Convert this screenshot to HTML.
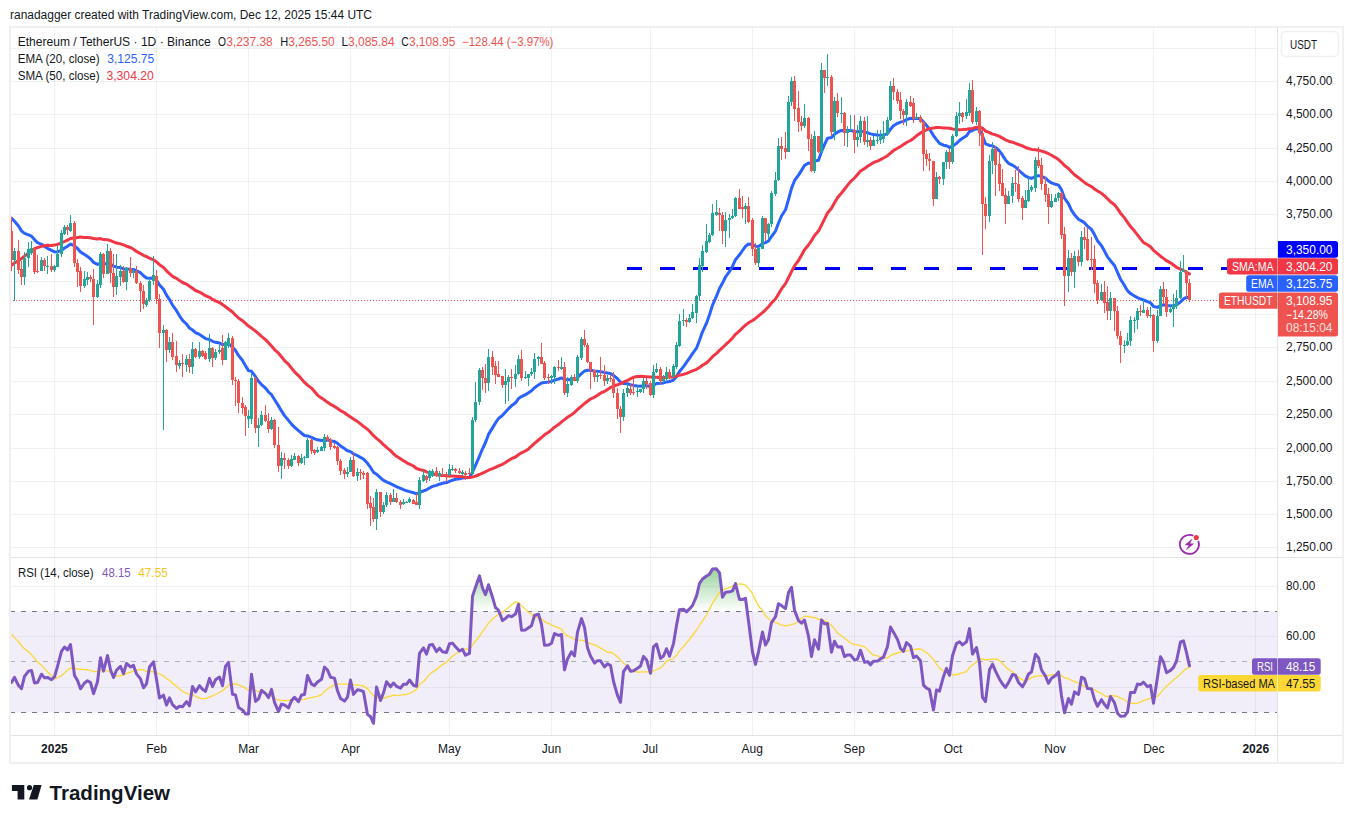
<!DOCTYPE html>
<html><head><meta charset="utf-8"><style>
html,body{margin:0;padding:0;background:#fff;width:1353px;height:823px;overflow:hidden}
svg{display:block}
text{font-family:"Liberation Sans",sans-serif}
</style></head><body>
<svg width="1353" height="823" viewBox="0 0 1353 823">
<rect x="0" y="0" width="1353" height="823" fill="#ffffff"/>
<defs><clipPath id="plot"><rect x="11" y="28" width="1266" height="707"/></clipPath></defs>
<g clip-path="url(#plot)">
<g stroke="rgba(120,140,130,0.11)" stroke-width="1" shape-rendering="crispEdges">
<line x1="54.5" y1="28" x2="54.5" y2="735"/>
<line x1="156.5" y1="28" x2="156.5" y2="735"/>
<line x1="248.5" y1="28" x2="248.5" y2="735"/>
<line x1="350.5" y1="28" x2="350.5" y2="735"/>
<line x1="449.5" y1="28" x2="449.5" y2="735"/>
<line x1="551.5" y1="28" x2="551.5" y2="735"/>
<line x1="650.5" y1="28" x2="650.5" y2="735"/>
<line x1="752.5" y1="28" x2="752.5" y2="735"/>
<line x1="854.5" y1="28" x2="854.5" y2="735"/>
<line x1="952.5" y1="28" x2="952.5" y2="735"/>
<line x1="1055.5" y1="28" x2="1055.5" y2="735"/>
<line x1="1153.5" y1="28" x2="1153.5" y2="735"/>
<line x1="1255.5" y1="28" x2="1255.5" y2="735"/>
<line x1="11" y1="547.5" x2="1277" y2="547.5"/>
<line x1="11" y1="514.5" x2="1277" y2="514.5"/>
<line x1="11" y1="481.5" x2="1277" y2="481.5"/>
<line x1="11" y1="448.5" x2="1277" y2="448.5"/>
<line x1="11" y1="414.5" x2="1277" y2="414.5"/>
<line x1="11" y1="381.5" x2="1277" y2="381.5"/>
<line x1="11" y1="347.5" x2="1277" y2="347.5"/>
<line x1="11" y1="314.5" x2="1277" y2="314.5"/>
<line x1="11" y1="281.5" x2="1277" y2="281.5"/>
<line x1="11" y1="248.5" x2="1277" y2="248.5"/>
<line x1="11" y1="214.5" x2="1277" y2="214.5"/>
<line x1="11" y1="181.5" x2="1277" y2="181.5"/>
<line x1="11" y1="148.5" x2="1277" y2="148.5"/>
<line x1="11" y1="114.5" x2="1277" y2="114.5"/>
<line x1="11" y1="81.5" x2="1277" y2="81.5"/>
<line x1="11" y1="48.5" x2="1277" y2="48.5"/>
<line x1="11" y1="586.5" x2="1277" y2="586.5"/>
<line x1="11" y1="636.5" x2="1277" y2="636.5"/>
<line x1="11" y1="687.5" x2="1277" y2="687.5"/>
</g>
<line x1="627" y1="268.5" x2="1277" y2="268.5" stroke="#0000ff" stroke-width="3" stroke-dasharray="15 18"/>
<line x1="13" y1="300.5" x2="1218" y2="300.5" stroke="#ef5350" stroke-width="1" stroke-dasharray="1 2" shape-rendering="crispEdges"/>
<polyline fill="none" stroke="#2962ff" stroke-width="3" stroke-linejoin="round" stroke-linecap="round" points="11.5,218.2 14.5,221.3 18.5,226.0 21.5,230.9 24.5,233.4 28.5,234.9 31.5,236.2 34.5,239.6 37.5,242.7 41.5,244.3 44.5,246.4 47.5,248.3 51.5,250.3 54.5,251.8 57.5,252.0 61.5,250.2 64.5,248.0 67.5,246.3 70.5,244.1 74.5,245.9 77.5,248.4 80.5,251.9 84.5,254.5 87.5,256.6 90.5,258.7 93.5,262.3 97.5,264.4 100.5,263.4 103.5,264.4 107.5,263.1 110.5,264.1 113.5,266.2 116.5,267.2 120.5,267.5 123.5,268.9 126.5,268.9 130.5,269.3 133.5,269.5 136.5,270.8 140.5,272.7 143.5,275.7 146.5,278.0 149.5,278.3 153.5,277.9 156.5,279.9 159.5,285.0 163.5,289.2 166.5,295.1 169.5,299.6 172.5,305.0 176.5,310.7 179.5,315.7 182.5,320.3 186.5,324.0 189.5,328.1 192.5,330.0 195.5,332.6 199.5,334.4 202.5,336.5 205.5,338.6 209.5,339.5 212.5,341.3 215.5,342.3 219.5,343.0 222.5,344.6 225.5,344.3 228.5,343.7 232.5,347.2 235.5,350.4 238.5,355.4 242.5,360.5 245.5,365.8 248.5,370.6 251.5,371.3 255.5,376.7 258.5,381.3 261.5,384.6 265.5,388.1 268.5,392.0 271.5,394.7 274.5,399.5 278.5,405.9 281.5,410.9 284.5,415.6 288.5,420.4 291.5,424.1 294.5,427.2 298.5,430.6 301.5,433.2 304.5,435.5 307.5,435.9 311.5,437.3 314.5,438.8 317.5,439.8 321.5,440.5 324.5,440.2 327.5,440.1 330.5,440.8 334.5,441.4 337.5,443.3 340.5,445.9 344.5,448.6 347.5,450.8 350.5,451.6 353.5,453.9 357.5,455.7 360.5,457.4 363.5,459.0 367.5,463.3 370.5,467.5 373.5,472.3 376.5,474.2 380.5,477.8 383.5,480.4 386.5,481.8 390.5,483.7 393.5,485.1 396.5,486.7 400.5,488.4 403.5,489.7 406.5,490.8 409.5,491.6 413.5,492.7 416.5,493.9 419.5,492.5 423.5,490.9 426.5,489.8 429.5,488.0 432.5,486.4 436.5,485.4 439.5,484.2 442.5,483.3 446.5,482.6 449.5,481.4 452.5,480.2 455.5,479.3 459.5,478.7 462.5,478.1 465.5,477.8 469.5,477.4 472.5,472.0 475.5,465.3 479.5,456.2 482.5,448.8 485.5,442.5 488.5,434.4 492.5,427.9 495.5,422.9 498.5,418.5 502.5,415.3 505.5,412.0 508.5,408.7 511.5,405.8 515.5,402.8 518.5,398.6 521.5,396.6 525.5,394.7 528.5,392.8 531.5,390.8 534.5,387.8 538.5,384.9 541.5,382.9 544.5,382.4 548.5,382.0 551.5,381.5 554.5,380.1 558.5,379.0 561.5,377.9 564.5,379.3 567.5,379.7 571.5,379.5 574.5,379.6 577.5,377.4 581.5,373.7 584.5,371.0 587.5,370.2 590.5,370.2 594.5,370.9 597.5,371.3 600.5,371.6 604.5,372.5 607.5,373.0 610.5,373.6 613.5,375.5 617.5,378.7 620.5,382.3 623.5,383.4 627.5,383.8 630.5,384.7 633.5,385.4 637.5,385.9 640.5,386.2 643.5,385.8 646.5,385.6 650.5,386.5 653.5,385.1 656.5,383.6 660.5,383.3 663.5,382.9 666.5,381.9 669.5,381.5 673.5,380.1 676.5,376.8 679.5,371.5 683.5,366.6 686.5,362.4 689.5,358.1 692.5,353.7 696.5,348.2 699.5,340.3 702.5,331.8 706.5,323.2 709.5,314.7 712.5,305.1 716.5,296.2 719.5,288.5 722.5,283.1 725.5,277.0 729.5,271.4 732.5,266.2 735.5,259.7 739.5,254.8 742.5,250.5 745.5,246.3 748.5,243.9 752.5,244.5 755.5,246.3 758.5,246.4 762.5,243.7 765.5,242.7 768.5,241.0 771.5,236.5 775.5,231.1 778.5,223.0 781.5,216.0 785.5,209.8 788.5,199.5 791.5,188.3 794.5,180.7 798.5,175.1 801.5,170.4 804.5,165.5 808.5,163.0 811.5,163.8 814.5,161.1 818.5,160.3 821.5,151.7 824.5,144.7 827.5,138.2 831.5,137.6 834.5,134.2 837.5,132.2 841.5,130.4 844.5,130.7 847.5,130.6 850.5,130.5 854.5,131.3 857.5,131.9 860.5,130.9 864.5,131.9 867.5,132.7 870.5,133.9 873.5,134.5 877.5,135.0 880.5,135.2 883.5,135.1 887.5,133.7 890.5,129.2 893.5,125.7 897.5,123.3 900.5,122.1 903.5,121.4 906.5,119.6 910.5,118.3 913.5,118.4 916.5,118.3 920.5,118.7 923.5,122.1 926.5,125.6 929.5,129.0 933.5,135.6 936.5,139.6 939.5,143.3 943.5,145.2 946.5,145.8 949.5,147.4 952.5,146.3 956.5,143.4 959.5,140.5 962.5,138.3 966.5,135.8 969.5,131.5 972.5,130.5 976.5,128.7 979.5,129.0 982.5,136.2 985.5,143.8 989.5,145.4 992.5,145.7 995.5,147.5 999.5,151.0 1002.5,155.2 1005.5,159.9 1008.5,163.3 1012.5,165.2 1015.5,167.0 1018.5,170.0 1022.5,173.6 1025.5,176.2 1028.5,177.5 1031.5,178.4 1035.5,176.7 1038.5,175.6 1041.5,176.5 1045.5,178.2 1048.5,181.0 1051.5,182.9 1055.5,184.3 1058.5,185.1 1061.5,189.8 1064.5,198.1 1068.5,203.8 1071.5,210.3 1074.5,214.7 1078.5,219.2 1081.5,220.9 1084.5,222.7 1087.5,226.2 1091.5,229.4 1094.5,234.6 1097.5,240.8 1101.5,245.7 1104.5,251.1 1107.5,256.8 1110.5,260.7 1114.5,265.5 1117.5,272.3 1120.5,279.2 1124.5,285.4 1127.5,290.7 1130.5,293.6 1134.5,296.1 1137.5,297.6 1140.5,299.0 1143.5,300.0 1147.5,301.6 1150.5,302.8 1153.5,306.5 1157.5,307.4 1160.5,305.7 1163.5,304.8 1166.5,305.5 1170.5,305.8 1173.5,305.8 1176.5,305.0 1180.5,301.9 1183.5,298.9 1186.5,297.4 1189.5,297.6"/>
<polyline fill="none" stroke="#f23645" stroke-width="3" stroke-linejoin="round" stroke-linecap="round" points="11.5,265.4 14.5,262.9 18.5,260.7 21.5,258.6 24.5,256.1 28.5,253.2 31.5,250.3 34.5,248.7 37.5,247.6 41.5,246.4 44.5,245.8 47.5,245.3 51.5,245.4 54.5,245.1 57.5,244.4 61.5,243.0 64.5,241.5 67.5,240.1 70.5,238.5 74.5,238.1 77.5,237.5 80.5,237.1 84.5,237.4 87.5,237.5 90.5,237.8 93.5,238.5 97.5,239.0 100.5,238.6 103.5,239.6 107.5,239.8 110.5,240.6 113.5,241.9 116.5,243.0 120.5,243.9 123.5,244.9 126.5,246.2 130.5,247.5 133.5,249.3 136.5,251.4 140.5,253.6 143.5,255.3 146.5,256.7 149.5,258.2 153.5,259.8 156.5,261.9 159.5,264.6 163.5,267.5 166.5,270.8 169.5,273.7 172.5,276.3 176.5,278.4 179.5,280.6 182.5,282.5 186.5,284.1 189.5,286.3 192.5,288.3 195.5,290.5 199.5,292.1 202.5,293.7 205.5,295.7 209.5,297.4 212.5,299.2 215.5,300.9 219.5,302.5 222.5,304.6 225.5,306.8 228.5,309.0 232.5,312.0 235.5,315.2 238.5,318.0 242.5,320.7 245.5,323.3 248.5,326.1 251.5,328.1 255.5,331.1 258.5,333.7 261.5,336.3 265.5,339.6 268.5,342.7 271.5,346.1 274.5,349.6 278.5,353.2 281.5,356.8 284.5,360.6 288.5,364.3 291.5,368.1 294.5,371.8 298.5,375.6 301.5,379.1 304.5,382.4 307.5,385.1 311.5,388.1 314.5,391.6 317.5,395.1 321.5,398.1 324.5,400.1 327.5,402.3 330.5,404.3 334.5,406.4 337.5,408.5 340.5,410.6 344.5,412.8 347.5,414.9 350.5,417.0 353.5,419.1 357.5,421.6 360.5,423.9 363.5,426.4 367.5,429.3 370.5,432.3 373.5,435.7 376.5,438.4 380.5,441.6 383.5,444.7 386.5,447.4 390.5,450.6 393.5,453.8 396.5,456.3 400.5,458.7 403.5,460.7 406.5,462.6 409.5,464.2 413.5,466.0 416.5,468.5 419.5,469.5 423.5,470.5 426.5,471.8 429.5,472.8 432.5,473.7 436.5,474.8 439.5,475.3 442.5,475.5 446.5,475.8 449.5,476.0 452.5,476.1 455.5,476.3 459.5,476.6 462.5,476.8 465.5,477.2 469.5,477.5 472.5,477.1 475.5,476.1 479.5,474.5 482.5,473.1 485.5,471.8 488.5,470.2 492.5,468.7 495.5,467.3 498.5,465.9 502.5,464.3 505.5,462.5 508.5,460.6 511.5,458.7 515.5,457.0 518.5,454.7 521.5,452.8 525.5,450.9 528.5,448.9 531.5,446.2 534.5,443.3 538.5,440.0 541.5,437.5 544.5,434.8 548.5,432.2 551.5,429.9 554.5,427.2 558.5,424.6 561.5,421.9 564.5,419.6 567.5,417.3 571.5,414.8 574.5,412.4 577.5,409.5 581.5,406.2 584.5,403.5 587.5,401.2 590.5,399.0 594.5,397.2 597.5,395.3 600.5,393.2 604.5,391.4 607.5,389.4 610.5,387.5 613.5,386.0 617.5,384.8 620.5,383.7 623.5,382.1 627.5,380.4 630.5,378.8 633.5,377.2 637.5,376.6 640.5,376.3 643.5,376.5 646.5,376.7 650.5,376.9 653.5,377.2 656.5,377.2 660.5,377.4 663.5,377.4 666.5,377.2 669.5,377.1 673.5,376.9 676.5,376.2 679.5,375.2 683.5,374.4 686.5,373.3 689.5,372.1 692.5,370.9 696.5,369.3 699.5,367.5 702.5,365.3 706.5,362.9 709.5,360.0 712.5,356.7 716.5,353.4 719.5,350.4 722.5,347.7 725.5,344.7 729.5,341.2 732.5,337.9 735.5,334.3 739.5,330.8 742.5,327.9 745.5,325.2 748.5,322.8 752.5,320.5 755.5,318.4 758.5,315.8 762.5,312.6 765.5,309.8 768.5,306.7 771.5,303.0 775.5,299.0 778.5,294.1 781.5,288.9 785.5,283.6 788.5,277.7 791.5,271.6 794.5,265.9 798.5,260.5 801.5,255.2 804.5,249.8 808.5,245.0 811.5,240.7 814.5,235.5 818.5,231.1 821.5,225.1 824.5,219.1 827.5,213.0 831.5,208.2 834.5,202.7 837.5,197.7 841.5,193.0 844.5,189.2 847.5,185.4 850.5,181.6 854.5,178.0 857.5,174.5 860.5,171.0 864.5,168.6 867.5,166.3 870.5,164.4 873.5,162.5 877.5,161.1 880.5,159.6 883.5,158.0 887.5,155.7 890.5,153.1 893.5,150.5 897.5,148.2 900.5,146.5 903.5,144.6 906.5,142.5 910.5,140.5 913.5,138.4 916.5,135.8 920.5,133.0 923.5,131.1 926.5,129.9 929.5,128.5 933.5,127.9 936.5,127.6 939.5,127.6 943.5,127.9 946.5,128.0 949.5,128.2 952.5,128.9 956.5,129.6 959.5,129.7 962.5,129.6 966.5,129.3 969.5,128.7 972.5,128.4 976.5,127.2 979.5,127.1 982.5,128.1 985.5,131.0 989.5,132.7 992.5,134.1 995.5,134.8 999.5,136.4 1002.5,138.1 1005.5,139.9 1008.5,141.2 1012.5,142.2 1015.5,143.3 1018.5,144.5 1022.5,145.9 1025.5,147.5 1028.5,148.5 1031.5,149.4 1035.5,149.7 1038.5,150.2 1041.5,151.1 1045.5,152.3 1048.5,153.7 1051.5,155.3 1055.5,157.6 1058.5,159.6 1061.5,162.3 1064.5,165.6 1068.5,168.4 1071.5,171.8 1074.5,174.8 1078.5,177.7 1081.5,180.1 1084.5,182.4 1087.5,184.5 1091.5,186.6 1094.5,189.0 1097.5,191.0 1101.5,193.3 1104.5,195.8 1107.5,198.8 1110.5,201.7 1114.5,204.7 1117.5,208.7 1120.5,213.2 1124.5,217.9 1127.5,222.4 1130.5,226.5 1134.5,231.1 1137.5,234.9 1140.5,238.9 1143.5,242.5 1147.5,244.7 1150.5,246.7 1153.5,250.3 1157.5,253.7 1160.5,256.2 1163.5,258.4 1166.5,260.7 1170.5,262.8 1173.5,265.0 1176.5,267.3 1180.5,269.1 1183.5,270.5 1186.5,272.0 1189.5,274.0"/>
<path fill="#22a69a" d="M14 248.0h1V251.0h1v9.0h-1V301.0h-1V260.0h-1v-9.0h1zM24 252.0h1V258.0h1v19.0h-1V285.0h-1V277.0h-1v-19.0h1zM28 242.0h1V249.0h1v9.0h-1V267.0h-1V258.0h-1v-9.0h1zM31 241.0h1V248.0h1v5.0h-1V255.0h-1V253.0h-1v-5.0h1zM41 257.0h1V260.0h1v11.0h-1V271.0h-1V271.0h-1v-11.0h1zM47 256.0h1V266.0h1v1.0h-1V274.0h-1V267.0h-1v-1.0h1zM54 265.0h1V266.0h1v4.0h-1V272.0h-1V270.0h-1v-4.0h1zM57 246.0h1V254.0h1v13.0h-1V267.0h-1V267.0h-1v-13.0h1zM61 230.0h1V233.0h1v21.0h-1V257.0h-1V254.0h-1v-21.0h1zM64 225.0h1V227.0h1v7.0h-1V235.0h-1V234.0h-1v-7.0h1zM70 215.0h1V223.0h1v8.0h-1V232.0h-1V231.0h-1v-8.0h1zM84 271.0h1V279.0h1v7.0h-1V288.0h-1V286.0h-1v-7.0h1zM87 272.0h1V277.0h1v3.0h-1V285.0h-1V280.0h-1v-3.0h1zM97 280.0h1V284.0h1v13.0h-1V298.0h-1V297.0h-1v-13.0h1zM100 252.0h1V254.0h1v31.0h-1V288.0h-1V285.0h-1v-31.0h1zM107 244.0h1V251.0h1v23.0h-1V274.0h-1V274.0h-1v-23.0h1zM116 254.0h1V276.0h1v11.0h-1V295.0h-1V287.0h-1v-11.0h1zM120 265.0h1V271.0h1v6.0h-1V286.0h-1V277.0h-1v-6.0h1zM126 267.0h1V268.0h1v14.0h-1V290.0h-1V282.0h-1v-14.0h1zM133 269.0h1V271.0h1v2.0h-1V278.0h-1V273.0h-1v-2.0h1zM146 298.0h1V300.0h1v5.0h-1V307.0h-1V305.0h-1v-5.0h1zM149 278.0h1V281.0h1v19.0h-1V302.0h-1V300.0h-1v-19.0h1zM153 256.0h1V275.0h1v6.0h-1V285.0h-1V281.0h-1v-6.0h1zM163 325.0h1V330.0h1v3.0h-1V430.0h-1V333.0h-1v-3.0h1zM169 337.0h1V342.0h1v8.0h-1V353.0h-1V350.0h-1v-8.0h1zM179 360.0h1V363.0h1v3.0h-1V369.0h-1V366.0h-1v-3.0h1zM186 355.0h1V359.0h1v6.0h-1V372.0h-1V365.0h-1v-6.0h1zM192 342.0h1V349.0h1v18.0h-1V374.0h-1V367.0h-1v-18.0h1zM199 342.0h1V351.0h1v6.0h-1V359.0h-1V357.0h-1v-6.0h1zM209 334.0h1V348.0h1v11.0h-1V362.0h-1V359.0h-1v-11.0h1zM215 349.0h1V352.0h1v6.0h-1V360.0h-1V358.0h-1v-6.0h1zM219 345.0h1V350.0h1v2.0h-1V354.0h-1V352.0h-1v-2.0h1zM225 341.0h1V342.0h1v18.0h-1V360.0h-1V360.0h-1v-18.0h1zM228 333.0h1V338.0h1v8.0h-1V348.0h-1V346.0h-1v-8.0h1zM248 410.0h1V416.0h1v3.0h-1V428.0h-1V419.0h-1v-3.0h1zM251 373.0h1V378.0h1v41.0h-1V424.0h-1V419.0h-1v-41.0h1zM258 418.0h1V425.0h1v3.0h-1V447.0h-1V428.0h-1v-3.0h1zM261 411.0h1V415.0h1v10.0h-1V426.0h-1V425.0h-1v-10.0h1zM271 417.0h1V420.0h1v9.0h-1V430.0h-1V429.0h-1v-9.0h1zM281 452.0h1V458.0h1v8.0h-1V479.0h-1V466.0h-1v-8.0h1zM291 455.0h1V459.0h1v7.0h-1V467.0h-1V466.0h-1v-7.0h1zM294 453.0h1V456.0h1v4.0h-1V460.0h-1V460.0h-1v-4.0h1zM301 454.0h1V458.0h1v5.0h-1V464.0h-1V463.0h-1v-5.0h1zM304 456.0h1V457.0h1v1.0h-1V465.0h-1V458.0h-1v-1.0h1zM307 438.0h1V440.0h1v18.0h-1V458.0h-1V458.0h-1v-18.0h1zM317 447.0h1V450.0h1v2.0h-1V453.0h-1V452.0h-1v-2.0h1zM321 446.0h1V447.0h1v4.0h-1V451.0h-1V451.0h-1v-4.0h1zM324 434.0h1V437.0h1v11.0h-1V451.0h-1V448.0h-1v-11.0h1zM347 467.0h1V472.0h1v2.0h-1V477.0h-1V474.0h-1v-2.0h1zM350 457.0h1V460.0h1v12.0h-1V472.0h-1V472.0h-1v-12.0h1zM357 468.0h1V472.0h1v4.0h-1V481.0h-1V476.0h-1v-4.0h1zM376 489.0h1V492.0h1v27.0h-1V530.0h-1V519.0h-1v-27.0h1zM383 502.0h1V505.0h1v7.0h-1V514.0h-1V512.0h-1v-7.0h1zM386 492.0h1V495.0h1v10.0h-1V507.0h-1V505.0h-1v-10.0h1zM393 489.0h1V498.0h1v4.0h-1V502.0h-1V502.0h-1v-4.0h1zM403 499.0h1V502.0h1v2.0h-1V505.0h-1V504.0h-1v-2.0h1zM406 501.0h1V502.0h1v1.0h-1V503.0h-1V503.0h-1v-1.0h1zM409 497.0h1V499.0h1v3.0h-1V503.0h-1V502.0h-1v-3.0h1zM419 477.0h1V480.0h1v25.0h-1V509.0h-1V505.0h-1v-25.0h1zM423 470.0h1V475.0h1v6.0h-1V482.0h-1V481.0h-1v-6.0h1zM429 470.0h1V471.0h1v7.0h-1V481.0h-1V478.0h-1v-7.0h1zM432 469.0h1V471.0h1v5.0h-1V477.0h-1V476.0h-1v-5.0h1zM439 471.0h1V473.0h1v3.0h-1V481.0h-1V476.0h-1v-3.0h1zM449 464.0h1V469.0h1v6.0h-1V476.0h-1V475.0h-1v-6.0h1zM452 465.0h1V469.0h1v1.0h-1V471.0h-1V470.0h-1v-1.0h1zM462 470.0h1V472.0h1v2.0h-1V476.0h-1V474.0h-1v-2.0h1zM472 417.0h1V420.0h1v54.0h-1V475.0h-1V474.0h-1v-54.0h1zM475 382.0h1V402.0h1v18.0h-1V422.0h-1V420.0h-1v-18.0h1zM479 368.0h1V370.0h1v32.0h-1V405.0h-1V402.0h-1v-32.0h1zM488 349.0h1V357.0h1v26.0h-1V391.0h-1V383.0h-1v-26.0h1zM505 369.0h1V381.0h1v4.0h-1V404.0h-1V385.0h-1v-4.0h1zM508 375.0h1V377.0h1v5.0h-1V401.0h-1V382.0h-1v-5.0h1zM515 365.0h1V374.0h1v5.0h-1V387.0h-1V379.0h-1v-5.0h1zM518 355.0h1V359.0h1v15.0h-1V375.0h-1V374.0h-1v-15.0h1zM525 371.0h1V377.0h1v1.0h-1V379.0h-1V378.0h-1v-1.0h1zM528 374.0h1V374.0h1v4.0h-1V386.0h-1V378.0h-1v-4.0h1zM531 368.0h1V372.0h1v2.0h-1V376.0h-1V374.0h-1v-2.0h1zM534 353.0h1V359.0h1v13.0h-1V379.0h-1V372.0h-1v-13.0h1zM538 356.0h1V357.0h1v2.0h-1V366.0h-1V359.0h-1v-2.0h1zM551 375.0h1V376.0h1v2.0h-1V384.0h-1V378.0h-1v-2.0h1zM554 366.0h1V367.0h1v10.0h-1V384.0h-1V377.0h-1v-10.0h1zM561 357.0h1V367.0h1v2.0h-1V370.0h-1V369.0h-1v-2.0h1zM567 377.0h1V384.0h1v9.0h-1V397.0h-1V393.0h-1v-9.0h1zM571 375.0h1V377.0h1v8.0h-1V386.0h-1V385.0h-1v-8.0h1zM577 355.0h1V357.0h1v24.0h-1V383.0h-1V381.0h-1v-24.0h1zM581 337.0h1V339.0h1v19.0h-1V360.0h-1V358.0h-1v-19.0h1zM597 373.0h1V375.0h1v2.0h-1V382.0h-1V377.0h-1v-2.0h1zM607 375.0h1V378.0h1v3.0h-1V384.0h-1V381.0h-1v-3.0h1zM623 389.0h1V393.0h1v24.0h-1V421.0h-1V417.0h-1v-24.0h1zM627 384.0h1V388.0h1v5.0h-1V397.0h-1V393.0h-1v-5.0h1zM637 386.0h1V391.0h1v1.0h-1V397.0h-1V392.0h-1v-1.0h1zM640 389.0h1V389.0h1v3.0h-1V393.0h-1V392.0h-1v-3.0h1zM643 378.0h1V381.0h1v8.0h-1V393.0h-1V389.0h-1v-8.0h1zM653 365.0h1V372.0h1v23.0h-1V398.0h-1V395.0h-1v-23.0h1zM656 363.0h1V369.0h1v3.0h-1V373.0h-1V372.0h-1v-3.0h1zM663 375.0h1V379.0h1v2.0h-1V383.0h-1V381.0h-1v-2.0h1zM666 367.0h1V372.0h1v7.0h-1V380.0h-1V379.0h-1v-7.0h1zM673 364.0h1V366.0h1v11.0h-1V377.0h-1V377.0h-1v-11.0h1zM676 342.0h1V345.0h1v22.0h-1V369.0h-1V367.0h-1v-22.0h1zM679 314.0h1V321.0h1v25.0h-1V347.0h-1V346.0h-1v-25.0h1zM683 309.0h1V320.0h1v1.0h-1V326.0h-1V321.0h-1v-1.0h1zM689 314.0h1V318.0h1v4.0h-1V323.0h-1V322.0h-1v-4.0h1zM692 304.0h1V312.0h1v6.0h-1V319.0h-1V318.0h-1v-6.0h1zM696 295.0h1V296.0h1v17.0h-1V323.0h-1V313.0h-1v-17.0h1zM699 258.0h1V265.0h1v31.0h-1V301.0h-1V296.0h-1v-31.0h1zM702 245.0h1V251.0h1v15.0h-1V272.0h-1V266.0h-1v-15.0h1zM706 224.0h1V241.0h1v11.0h-1V253.0h-1V252.0h-1v-11.0h1zM709 233.0h1V235.0h1v7.0h-1V243.0h-1V242.0h-1v-7.0h1zM712 204.0h1V213.0h1v22.0h-1V236.0h-1V235.0h-1v-22.0h1zM716 200.0h1V212.0h1v3.0h-1V216.0h-1V215.0h-1v-3.0h1zM725 212.0h1V220.0h1v11.0h-1V247.0h-1V231.0h-1v-11.0h1zM729 214.0h1V218.0h1v2.0h-1V238.0h-1V220.0h-1v-2.0h1zM732 209.0h1V216.0h1v2.0h-1V219.0h-1V218.0h-1v-2.0h1zM735 197.0h1V198.0h1v18.0h-1V217.0h-1V216.0h-1v-18.0h1zM745 203.0h1V206.0h1v3.0h-1V224.0h-1V209.0h-1v-3.0h1zM758 247.0h1V248.0h1v15.0h-1V267.0h-1V263.0h-1v-15.0h1zM762 216.0h1V218.0h1v31.0h-1V249.0h-1V249.0h-1v-31.0h1zM768 223.0h1V224.0h1v10.0h-1V239.0h-1V234.0h-1v-10.0h1zM771 191.0h1V193.0h1v31.0h-1V227.0h-1V224.0h-1v-31.0h1zM775 172.0h1V180.0h1v14.0h-1V196.0h-1V194.0h-1v-14.0h1zM778 138.0h1V146.0h1v34.0h-1V181.0h-1V180.0h-1v-34.0h1zM788 96.0h1V102.0h1v50.0h-1V152.0h-1V152.0h-1v-50.0h1zM791 77.0h1V81.0h1v21.0h-1V106.0h-1V102.0h-1v-21.0h1zM804 104.0h1V118.0h1v8.0h-1V128.0h-1V126.0h-1v-8.0h1zM814 131.0h1V136.0h1v35.0h-1V173.0h-1V171.0h-1v-35.0h1zM821 63.0h1V70.0h1v82.0h-1V153.0h-1V152.0h-1v-82.0h1zM827 54.0h1V77.0h1v1.0h-1V86.0h-1V78.0h-1v-1.0h1zM834 97.0h1V101.0h1v31.0h-1V140.0h-1V132.0h-1v-31.0h1zM841 97.0h1V113.0h1v1.0h-1V123.0h-1V114.0h-1v-1.0h1zM847 126.0h1V130.0h1v3.0h-1V147.0h-1V133.0h-1v-3.0h1zM850 115.0h1V130.0h1v1.0h-1V131.0h-1V131.0h-1v-1.0h1zM857 125.0h1V137.0h1v3.0h-1V147.0h-1V140.0h-1v-3.0h1zM860 116.0h1V121.0h1v16.0h-1V143.0h-1V137.0h-1v-16.0h1zM867 116.0h1V140.0h1v2.0h-1V147.0h-1V142.0h-1v-2.0h1zM873 136.0h1V140.0h1v6.0h-1V146.0h-1V146.0h-1v-6.0h1zM877 130.0h1V140.0h1v1.0h-1V144.0h-1V141.0h-1v-1.0h1zM880 130.0h1V137.0h1v3.0h-1V144.0h-1V140.0h-1v-3.0h1zM883 121.0h1V134.0h1v5.0h-1V143.0h-1V139.0h-1v-5.0h1zM887 117.0h1V120.0h1v14.0h-1V136.0h-1V134.0h-1v-14.0h1zM890 81.0h1V86.0h1v34.0h-1V121.0h-1V120.0h-1v-34.0h1zM906 99.0h1V102.0h1v13.0h-1V126.0h-1V115.0h-1v-13.0h1zM916 113.0h1V117.0h1v2.0h-1V119.0h-1V119.0h-1v-2.0h1zM936 172.0h1V177.0h1v22.0h-1V199.0h-1V199.0h-1v-22.0h1zM943 162.0h1V162.0h1v17.0h-1V185.0h-1V179.0h-1v-17.0h1zM946 150.0h1V152.0h1v10.0h-1V169.0h-1V162.0h-1v-10.0h1zM952 134.0h1V136.0h1v26.0h-1V164.0h-1V162.0h-1v-26.0h1zM956 112.0h1V116.0h1v20.0h-1V137.0h-1V136.0h-1v-20.0h1zM959 102.0h1V113.0h1v3.0h-1V124.0h-1V116.0h-1v-3.0h1zM966 99.0h1V112.0h1v4.0h-1V119.0h-1V116.0h-1v-4.0h1zM969 83.0h1V90.0h1v23.0h-1V116.0h-1V113.0h-1v-23.0h1zM976 107.0h1V111.0h1v11.0h-1V125.0h-1V122.0h-1v-11.0h1zM989 155.0h1V161.0h1v55.0h-1V222.0h-1V216.0h-1v-55.0h1zM992 142.0h1V149.0h1v12.0h-1V174.0h-1V161.0h-1v-12.0h1zM1008 191.0h1V196.0h1v8.0h-1V204.0h-1V204.0h-1v-8.0h1zM1012 177.0h1V183.0h1v13.0h-1V203.0h-1V196.0h-1v-13.0h1zM1025 190.0h1V200.0h1v8.0h-1V208.0h-1V208.0h-1v-8.0h1zM1028 177.0h1V190.0h1v11.0h-1V202.0h-1V201.0h-1v-11.0h1zM1031 185.0h1V187.0h1v3.0h-1V192.0h-1V190.0h-1v-3.0h1zM1035 157.0h1V160.0h1v28.0h-1V192.0h-1V188.0h-1v-28.0h1zM1051 194.0h1V201.0h1v6.0h-1V208.0h-1V207.0h-1v-6.0h1zM1055 194.0h1V198.0h1v4.0h-1V202.0h-1V202.0h-1v-4.0h1zM1058 192.0h1V193.0h1v5.0h-1V201.0h-1V198.0h-1v-5.0h1zM1068 250.0h1V258.0h1v18.0h-1V292.0h-1V276.0h-1v-18.0h1zM1074 251.0h1V256.0h1v16.0h-1V288.0h-1V272.0h-1v-16.0h1zM1081 231.0h1V237.0h1v25.0h-1V266.0h-1V262.0h-1v-25.0h1zM1101 284.0h1V292.0h1v8.0h-1V301.0h-1V300.0h-1v-8.0h1zM1110 292.0h1V298.0h1v13.0h-1V320.0h-1V311.0h-1v-13.0h1zM1124 340.0h1V345.0h1v1.0h-1V353.0h-1V346.0h-1v-1.0h1zM1127 333.0h1V341.0h1v4.0h-1V346.0h-1V345.0h-1v-4.0h1zM1130 316.0h1V320.0h1v21.0h-1V346.0h-1V341.0h-1v-21.0h1zM1134 317.0h1V320.0h1v1.0h-1V333.0h-1V321.0h-1v-1.0h1zM1137 308.0h1V311.0h1v9.0h-1V329.0h-1V320.0h-1v-9.0h1zM1143 300.0h1V310.0h1v3.0h-1V313.0h-1V313.0h-1v-3.0h1zM1150 307.0h1V315.0h1v1.0h-1V318.0h-1V316.0h-1v-1.0h1zM1157 310.0h1V316.0h1v25.0h-1V343.0h-1V341.0h-1v-25.0h1zM1160 286.0h1V289.0h1v27.0h-1V316.0h-1V316.0h-1v-27.0h1zM1170 305.0h1V309.0h1v3.0h-1V313.0h-1V312.0h-1v-3.0h1zM1173 294.0h1V305.0h1v4.0h-1V327.0h-1V309.0h-1v-4.0h1zM1176 290.0h1V298.0h1v8.0h-1V309.0h-1V306.0h-1v-8.0h1zM1180 261.0h1V272.0h1v26.0h-1V299.0h-1V298.0h-1v-26.0h1zM1183 255.0h1V270.0h1v2.0h-1V272.0h-1V272.0h-1v-2.0h1z"/>
<path fill="#ef5350" d="M11 217.0h1V231.0h1v29.0h-1V271.0h-1V260.0h-1v-29.0h1zM18 240.0h1V251.0h1v19.0h-1V274.0h-1V270.0h-1v-19.0h1zM21 261.0h1V269.0h1v8.0h-1V285.0h-1V277.0h-1v-8.0h1zM34 248.0h1V249.0h1v23.0h-1V274.0h-1V272.0h-1v-23.0h1zM37 255.0h1V271.0h1v1.0h-1V273.0h-1V272.0h-1v-1.0h1zM44 258.0h1V260.0h1v6.0h-1V271.0h-1V266.0h-1v-6.0h1zM51 254.0h1V266.0h1v4.0h-1V272.0h-1V270.0h-1v-4.0h1zM67 225.0h1V227.0h1v3.0h-1V235.0h-1V230.0h-1v-3.0h1zM74 221.0h1V223.0h1v40.0h-1V267.0h-1V263.0h-1v-40.0h1zM77 259.0h1V263.0h1v9.0h-1V287.0h-1V272.0h-1v-9.0h1zM80 267.0h1V271.0h1v15.0h-1V292.0h-1V286.0h-1v-15.0h1zM90 275.0h1V277.0h1v2.0h-1V282.0h-1V279.0h-1v-2.0h1zM93 269.0h1V279.0h1v18.0h-1V325.0h-1V297.0h-1v-18.0h1zM103 253.0h1V254.0h1v20.0h-1V278.0h-1V274.0h-1v-20.0h1zM110 248.0h1V251.0h1v22.0h-1V283.0h-1V273.0h-1v-22.0h1zM113 254.0h1V273.0h1v14.0h-1V297.0h-1V287.0h-1v-14.0h1zM123 266.0h1V271.0h1v11.0h-1V283.0h-1V282.0h-1v-11.0h1zM130 257.0h1V268.0h1v5.0h-1V277.0h-1V273.0h-1v-5.0h1zM136 266.0h1V271.0h1v12.0h-1V284.0h-1V283.0h-1v-12.0h1zM140 281.0h1V283.0h1v8.0h-1V312.0h-1V291.0h-1v-8.0h1zM143 285.0h1V291.0h1v13.0h-1V309.0h-1V304.0h-1v-13.0h1zM156 270.0h1V276.0h1v23.0h-1V304.0h-1V299.0h-1v-23.0h1zM159 294.0h1V299.0h1v34.0h-1V348.0h-1V333.0h-1v-34.0h1zM166 329.0h1V330.0h1v20.0h-1V362.0h-1V350.0h-1v-20.0h1zM172 333.0h1V342.0h1v15.0h-1V360.0h-1V357.0h-1v-15.0h1zM176 341.0h1V356.0h1v9.0h-1V372.0h-1V365.0h-1v-9.0h1zM182 354.0h1V363.0h1v1.0h-1V377.0h-1V364.0h-1v-1.0h1zM189 354.0h1V359.0h1v8.0h-1V373.0h-1V367.0h-1v-8.0h1zM195 348.0h1V349.0h1v8.0h-1V358.0h-1V357.0h-1v-8.0h1zM202 350.0h1V351.0h1v5.0h-1V357.0h-1V356.0h-1v-5.0h1zM205 351.0h1V353.0h1v6.0h-1V360.0h-1V359.0h-1v-6.0h1zM212 347.0h1V348.0h1v10.0h-1V367.0h-1V358.0h-1v-10.0h1zM222 335.0h1V348.0h1v12.0h-1V365.0h-1V360.0h-1v-12.0h1zM232 336.0h1V338.0h1v42.0h-1V385.0h-1V380.0h-1v-42.0h1zM235 377.0h1V380.0h1v1.0h-1V406.0h-1V381.0h-1v-1.0h1zM238 379.0h1V381.0h1v22.0h-1V413.0h-1V403.0h-1v-22.0h1zM242 397.0h1V403.0h1v5.0h-1V414.0h-1V408.0h-1v-5.0h1zM245 405.0h1V407.0h1v9.0h-1V436.0h-1V416.0h-1v-9.0h1zM255 377.0h1V378.0h1v50.0h-1V433.0h-1V428.0h-1v-50.0h1zM265 405.0h1V415.0h1v6.0h-1V422.0h-1V421.0h-1v-6.0h1zM268 413.0h1V421.0h1v8.0h-1V433.0h-1V429.0h-1v-8.0h1zM274 419.0h1V420.0h1v25.0h-1V448.0h-1V445.0h-1v-25.0h1zM278 427.0h1V445.0h1v21.0h-1V472.0h-1V466.0h-1v-21.0h1zM284 453.0h1V458.0h1v2.0h-1V469.0h-1V460.0h-1v-2.0h1zM288 458.0h1V460.0h1v6.0h-1V469.0h-1V466.0h-1v-6.0h1zM298 455.0h1V456.0h1v7.0h-1V466.0h-1V463.0h-1v-7.0h1zM311 438.0h1V440.0h1v11.0h-1V454.0h-1V451.0h-1v-11.0h1zM314 449.0h1V450.0h1v3.0h-1V455.0h-1V453.0h-1v-3.0h1zM327 435.0h1V437.0h1v3.0h-1V441.0h-1V440.0h-1v-3.0h1zM330 438.0h1V440.0h1v7.0h-1V450.0h-1V447.0h-1v-7.0h1zM334 443.0h1V446.0h1v2.0h-1V449.0h-1V448.0h-1v-2.0h1zM337 446.0h1V447.0h1v14.0h-1V465.0h-1V461.0h-1v-14.0h1zM340 459.0h1V461.0h1v10.0h-1V475.0h-1V471.0h-1v-10.0h1zM344 468.0h1V470.0h1v4.0h-1V479.0h-1V474.0h-1v-4.0h1zM353 453.0h1V460.0h1v16.0h-1V477.0h-1V476.0h-1v-16.0h1zM360 469.0h1V472.0h1v1.0h-1V480.0h-1V473.0h-1v-1.0h1zM363 471.0h1V473.0h1v2.0h-1V479.0h-1V475.0h-1v-2.0h1zM367 472.0h1V473.0h1v31.0h-1V509.0h-1V504.0h-1v-31.0h1zM370 496.0h1V503.0h1v5.0h-1V526.0h-1V508.0h-1v-5.0h1zM373 498.0h1V507.0h1v12.0h-1V522.0h-1V519.0h-1v-12.0h1zM380 492.0h1V492.0h1v20.0h-1V517.0h-1V512.0h-1v-20.0h1zM390 493.0h1V495.0h1v7.0h-1V505.0h-1V502.0h-1v-7.0h1zM396 493.0h1V498.0h1v4.0h-1V503.0h-1V502.0h-1v-4.0h1zM400 500.0h1V502.0h1v3.0h-1V509.0h-1V505.0h-1v-3.0h1zM413 499.0h1V500.0h1v4.0h-1V504.0h-1V504.0h-1v-4.0h1zM416 493.0h1V502.0h1v3.0h-1V505.0h-1V505.0h-1v-3.0h1zM426 475.0h1V476.0h1v4.0h-1V483.0h-1V480.0h-1v-4.0h1zM436 467.0h1V471.0h1v5.0h-1V477.0h-1V476.0h-1v-5.0h1zM442 468.0h1V474.0h1v1.0h-1V476.0h-1V475.0h-1v-1.0h1zM446 472.0h1V474.0h1v2.0h-1V482.0h-1V476.0h-1v-2.0h1zM455 468.0h1V469.0h1v2.0h-1V473.0h-1V471.0h-1v-2.0h1zM459 468.0h1V471.0h1v2.0h-1V474.0h-1V473.0h-1v-2.0h1zM465 471.0h1V473.0h1v2.0h-1V480.0h-1V475.0h-1v-2.0h1zM469 468.0h1V473.0h1v1.0h-1V475.0h-1V474.0h-1v-1.0h1zM482 367.0h1V370.0h1v8.0h-1V390.0h-1V378.0h-1v-8.0h1zM485 364.0h1V378.0h1v5.0h-1V393.0h-1V383.0h-1v-5.0h1zM492 351.0h1V357.0h1v10.0h-1V375.0h-1V367.0h-1v-10.0h1zM495 361.0h1V366.0h1v9.0h-1V384.0h-1V375.0h-1v-9.0h1zM498 361.0h1V374.0h1v3.0h-1V377.0h-1V377.0h-1v-3.0h1zM502 376.0h1V376.0h1v9.0h-1V388.0h-1V385.0h-1v-9.0h1zM511 369.0h1V377.0h1v1.0h-1V389.0h-1V378.0h-1v-1.0h1zM521 350.0h1V359.0h1v19.0h-1V381.0h-1V378.0h-1v-19.0h1zM541 343.0h1V357.0h1v7.0h-1V364.0h-1V364.0h-1v-7.0h1zM544 361.0h1V363.0h1v15.0h-1V380.0h-1V378.0h-1v-15.0h1zM548 374.0h1V377.0h1v1.0h-1V384.0h-1V378.0h-1v-1.0h1zM558 360.0h1V367.0h1v1.0h-1V371.0h-1V368.0h-1v-1.0h1zM564 362.0h1V367.0h1v26.0h-1V395.0h-1V393.0h-1v-26.0h1zM574 374.0h1V377.0h1v4.0h-1V381.0h-1V381.0h-1v-4.0h1zM584 330.0h1V339.0h1v6.0h-1V347.0h-1V345.0h-1v-6.0h1zM587 343.0h1V345.0h1v17.0h-1V363.0h-1V362.0h-1v-17.0h1zM590 362.0h1V362.0h1v8.0h-1V389.0h-1V370.0h-1v-8.0h1zM594 370.0h1V370.0h1v7.0h-1V382.0h-1V377.0h-1v-7.0h1zM600 357.0h1V375.0h1v1.0h-1V379.0h-1V376.0h-1v-1.0h1zM604 365.0h1V375.0h1v6.0h-1V386.0h-1V381.0h-1v-6.0h1zM610 375.0h1V378.0h1v1.0h-1V382.0h-1V379.0h-1v-1.0h1zM613 372.0h1V379.0h1v14.0h-1V398.0h-1V393.0h-1v-14.0h1zM617 388.0h1V393.0h1v16.0h-1V419.0h-1V409.0h-1v-16.0h1zM620 406.0h1V409.0h1v8.0h-1V433.0h-1V417.0h-1v-8.0h1zM630 384.0h1V389.0h1v4.0h-1V395.0h-1V393.0h-1v-4.0h1zM633 378.0h1V392.0h1v1.0h-1V395.0h-1V393.0h-1v-1.0h1zM646 378.0h1V381.0h1v3.0h-1V389.0h-1V384.0h-1v-3.0h1zM650 381.0h1V383.0h1v12.0h-1V396.0h-1V395.0h-1v-12.0h1zM660 367.0h1V369.0h1v12.0h-1V384.0h-1V381.0h-1v-12.0h1zM669 369.0h1V372.0h1v6.0h-1V379.0h-1V378.0h-1v-6.0h1zM686 318.0h1V320.0h1v2.0h-1V327.0h-1V322.0h-1v-2.0h1zM719 208.0h1V213.0h1v2.0h-1V231.0h-1V215.0h-1v-2.0h1zM722 212.0h1V215.0h1v16.0h-1V244.0h-1V231.0h-1v-16.0h1zM739 189.0h1V198.0h1v11.0h-1V209.0h-1V209.0h-1v-11.0h1zM742 196.0h1V207.0h1v2.0h-1V218.0h-1V209.0h-1v-2.0h1zM748 197.0h1V206.0h1v16.0h-1V223.0h-1V222.0h-1v-16.0h1zM752 218.0h1V220.0h1v29.0h-1V256.0h-1V249.0h-1v-29.0h1zM755 243.0h1V249.0h1v14.0h-1V265.0h-1V263.0h-1v-14.0h1zM765 218.0h1V218.0h1v15.0h-1V241.0h-1V233.0h-1v-15.0h1zM781 137.0h1V146.0h1v3.0h-1V160.0h-1V149.0h-1v-3.0h1zM785 132.0h1V148.0h1v4.0h-1V159.0h-1V152.0h-1v-4.0h1zM794 76.0h1V81.0h1v28.0h-1V121.0h-1V109.0h-1v-28.0h1zM798 91.0h1V108.0h1v14.0h-1V132.0h-1V122.0h-1v-14.0h1zM801 116.0h1V122.0h1v4.0h-1V131.0h-1V126.0h-1v-4.0h1zM808 117.0h1V118.0h1v21.0h-1V151.0h-1V139.0h-1v-21.0h1zM811 134.0h1V139.0h1v32.0h-1V172.0h-1V171.0h-1v-32.0h1zM818 136.0h1V136.0h1v16.0h-1V153.0h-1V152.0h-1v-16.0h1zM824 70.0h1V70.0h1v8.0h-1V93.0h-1V78.0h-1v-8.0h1zM831 75.0h1V77.0h1v55.0h-1V136.0h-1V132.0h-1v-55.0h1zM837 93.0h1V101.0h1v12.0h-1V117.0h-1V113.0h-1v-12.0h1zM844 112.0h1V113.0h1v20.0h-1V146.0h-1V133.0h-1v-20.0h1zM854 115.0h1V130.0h1v10.0h-1V153.0h-1V140.0h-1v-10.0h1zM864 117.0h1V121.0h1v21.0h-1V145.0h-1V142.0h-1v-21.0h1zM870 137.0h1V140.0h1v6.0h-1V150.0h-1V146.0h-1v-6.0h1zM893 78.0h1V86.0h1v6.0h-1V100.0h-1V92.0h-1v-6.0h1zM897 89.0h1V92.0h1v9.0h-1V104.0h-1V101.0h-1v-9.0h1zM900 92.0h1V100.0h1v11.0h-1V119.0h-1V111.0h-1v-11.0h1zM903 109.0h1V111.0h1v4.0h-1V125.0h-1V115.0h-1v-4.0h1zM910 96.0h1V102.0h1v4.0h-1V107.0h-1V106.0h-1v-4.0h1zM913 98.0h1V103.0h1v16.0h-1V123.0h-1V119.0h-1v-16.0h1zM920 115.0h1V117.0h1v5.0h-1V123.0h-1V122.0h-1v-5.0h1zM923 121.0h1V122.0h1v32.0h-1V171.0h-1V154.0h-1v-32.0h1zM926 150.0h1V154.0h1v5.0h-1V166.0h-1V159.0h-1v-5.0h1zM929 153.0h1V159.0h1v2.0h-1V171.0h-1V161.0h-1v-2.0h1zM933 161.0h1V161.0h1v38.0h-1V206.0h-1V199.0h-1v-38.0h1zM939 176.0h1V177.0h1v2.0h-1V184.0h-1V179.0h-1v-2.0h1zM949 149.0h1V152.0h1v10.0h-1V169.0h-1V162.0h-1v-10.0h1zM962 112.0h1V113.0h1v4.0h-1V122.0h-1V117.0h-1v-4.0h1zM972 80.0h1V90.0h1v32.0h-1V124.0h-1V122.0h-1v-32.0h1zM979 110.0h1V111.0h1v22.0h-1V146.0h-1V133.0h-1v-22.0h1zM982 130.0h1V133.0h1v71.0h-1V255.0h-1V204.0h-1v-71.0h1zM985 197.0h1V204.0h1v12.0h-1V229.0h-1V216.0h-1v-12.0h1zM995 146.0h1V149.0h1v16.0h-1V196.0h-1V165.0h-1v-16.0h1zM999 152.0h1V164.0h1v20.0h-1V191.0h-1V184.0h-1v-20.0h1zM1002 169.0h1V183.0h1v13.0h-1V196.0h-1V196.0h-1v-13.0h1zM1005 188.0h1V195.0h1v9.0h-1V224.0h-1V204.0h-1v-9.0h1zM1015 170.0h1V183.0h1v1.0h-1V192.0h-1V184.0h-1v-1.0h1zM1018 166.0h1V184.0h1v15.0h-1V202.0h-1V199.0h-1v-15.0h1zM1022 196.0h1V198.0h1v10.0h-1V220.0h-1V208.0h-1v-10.0h1zM1038 147.0h1V160.0h1v6.0h-1V168.0h-1V166.0h-1v-6.0h1zM1041 158.0h1V165.0h1v19.0h-1V190.0h-1V184.0h-1v-19.0h1zM1045 177.0h1V184.0h1v11.0h-1V202.0h-1V195.0h-1v-11.0h1zM1048 188.0h1V194.0h1v13.0h-1V224.0h-1V207.0h-1v-13.0h1zM1061 192.0h1V193.0h1v42.0h-1V239.0h-1V235.0h-1v-42.0h1zM1064 227.0h1V234.0h1v42.0h-1V306.0h-1V276.0h-1v-42.0h1zM1071 253.0h1V258.0h1v14.0h-1V276.0h-1V272.0h-1v-14.0h1zM1078 250.0h1V256.0h1v6.0h-1V266.0h-1V262.0h-1v-6.0h1zM1084 227.0h1V237.0h1v3.0h-1V249.0h-1V240.0h-1v-3.0h1zM1087 228.0h1V239.0h1v21.0h-1V261.0h-1V260.0h-1v-21.0h1zM1091 237.0h1V259.0h1v1.0h-1V270.0h-1V260.0h-1v-1.0h1zM1094 245.0h1V259.0h1v25.0h-1V293.0h-1V284.0h-1v-25.0h1zM1097 280.0h1V283.0h1v17.0h-1V304.0h-1V300.0h-1v-17.0h1zM1104 281.0h1V292.0h1v11.0h-1V313.0h-1V303.0h-1v-11.0h1zM1107 286.0h1V302.0h1v9.0h-1V320.0h-1V311.0h-1v-9.0h1zM1114 298.0h1V298.0h1v13.0h-1V331.0h-1V311.0h-1v-13.0h1zM1117 306.0h1V311.0h1v25.0h-1V339.0h-1V336.0h-1v-25.0h1zM1120 331.0h1V336.0h1v9.0h-1V363.0h-1V345.0h-1v-9.0h1zM1140 305.0h1V311.0h1v1.0h-1V316.0h-1V312.0h-1v-1.0h1zM1147 307.0h1V310.0h1v6.0h-1V318.0h-1V316.0h-1v-6.0h1zM1153 314.0h1V315.0h1v26.0h-1V352.0h-1V341.0h-1v-26.0h1zM1163 282.0h1V289.0h1v8.0h-1V304.0h-1V297.0h-1v-8.0h1zM1166 289.0h1V297.0h1v15.0h-1V317.0h-1V312.0h-1v-15.0h1zM1186 270.0h1V271.0h1v12.0h-1V298.0h-1V283.0h-1v-12.0h1zM1189 279.0h1V283.0h1v17.0h-1V302.0h-1V300.0h-1v-17.0h1z"/>
<rect x="11" y="611.5" width="1266" height="101.0" fill="#7e57c2" fill-opacity="0.1"/>
<line x1="10.3" y1="611.5" x2="1277" y2="611.5" stroke="#787b86" stroke-opacity="1" stroke-width="1" stroke-dasharray="5 6" shape-rendering="crispEdges"/>
<line x1="10.3" y1="661.5" x2="1277" y2="661.5" stroke="#787b86" stroke-opacity="0.55" stroke-width="1" stroke-dasharray="5 6" shape-rendering="crispEdges"/>
<line x1="10.3" y1="712.5" x2="1277" y2="712.5" stroke="#787b86" stroke-opacity="1" stroke-width="1" stroke-dasharray="5 6" shape-rendering="crispEdges"/>
<defs><linearGradient id="ob" gradientUnits="userSpaceOnUse" x1="0" y1="535.8" x2="0" y2="611.2"><stop offset="0" stop-color="#4caf50" stop-opacity="1"/><stop offset="1" stop-color="#4caf50" stop-opacity="0"/></linearGradient><linearGradient id="os" gradientUnits="userSpaceOnUse" x1="0" y1="711.8" x2="0" y2="787.2"><stop offset="0" stop-color="#f23645" stop-opacity="0"/><stop offset="1" stop-color="#f23645" stop-opacity="1"/></linearGradient><clipPath id="cob"><rect x="0" y="540" width="1353" height="71.20"/></clipPath><clipPath id="cos"><rect x="0" y="711.80" width="1353" height="100"/></clipPath></defs>
<polygon clip-path="url(#cob)" fill="url(#ob)" points="11.5,682.4 14.5,677.3 18.5,685.5 21.5,688.6 24.5,676.4 28.5,671.1 31.5,670.4 34.5,682.9 37.5,682.6 41.5,674.2 44.5,677.7 47.5,677.4 51.5,679.7 54.5,676.9 57.5,666.3 61.5,651.3 64.5,647.0 67.5,649.9 70.5,644.6 74.5,675.4 77.5,680.5 80.5,688.8 84.5,683.0 87.5,680.8 90.5,682.5 93.5,693.7 97.5,681.7 100.5,657.7 103.5,671.1 107.5,655.5 110.5,669.8 113.5,677.5 116.5,670.2 120.5,666.3 123.5,673.7 126.5,663.5 130.5,666.9 133.5,665.4 136.5,673.9 140.5,678.9 143.5,687.8 146.5,683.8 149.5,667.0 153.5,661.8 156.5,679.3 159.5,697.9 163.5,695.2 166.5,705.1 169.5,697.8 172.5,704.6 176.5,708.4 179.5,706.3 182.5,706.7 186.5,701.6 189.5,705.8 192.5,686.4 195.5,691.9 199.5,685.7 202.5,689.2 205.5,691.4 209.5,678.4 212.5,686.6 215.5,679.8 219.5,677.1 222.5,685.7 225.5,666.4 228.5,662.4 232.5,694.2 235.5,695.0 238.5,707.4 242.5,709.9 245.5,713.9 248.5,713.9 251.5,674.3 255.5,701.4 258.5,698.9 261.5,690.4 265.5,693.5 268.5,697.7 271.5,689.4 274.5,702.4 278.5,711.5 281.5,704.1 284.5,705.0 288.5,707.9 291.5,700.6 294.5,697.4 298.5,701.6 301.5,695.1 304.5,694.6 307.5,675.5 311.5,684.1 314.5,685.6 317.5,682.1 321.5,679.3 324.5,667.1 327.5,670.0 330.5,677.2 334.5,678.1 337.5,690.8 340.5,698.4 344.5,701.1 347.5,697.2 350.5,680.0 353.5,694.4 357.5,689.7 360.5,690.4 363.5,691.7 367.5,714.4 370.5,716.7 373.5,723.3 376.5,687.0 380.5,700.5 383.5,692.8 386.5,681.8 390.5,686.8 393.5,683.0 396.5,686.3 400.5,688.1 403.5,684.3 406.5,684.3 409.5,680.0 413.5,685.4 416.5,686.3 419.5,653.3 423.5,647.9 426.5,654.1 429.5,644.9 432.5,644.5 436.5,651.6 439.5,648.2 442.5,651.7 446.5,652.5 449.5,643.7 452.5,643.1 455.5,646.7 459.5,651.0 462.5,649.4 465.5,655.2 469.5,653.4 472.5,596.3 475.5,587.2 479.5,575.8 482.5,588.0 485.5,594.6 488.5,584.8 492.5,597.2 495.5,607.6 498.5,610.2 502.5,620.6 505.5,618.4 508.5,615.7 511.5,616.7 515.5,614.0 518.5,604.2 521.5,630.2 525.5,629.9 528.5,627.7 531.5,625.7 534.5,615.5 538.5,614.2 541.5,624.5 544.5,645.2 548.5,645.0 551.5,643.3 554.5,633.5 558.5,635.4 561.5,634.5 564.5,669.9 567.5,659.0 571.5,651.8 574.5,656.0 577.5,632.2 581.5,618.6 584.5,627.4 587.5,647.8 590.5,656.1 594.5,663.1 597.5,660.7 600.5,660.7 604.5,667.0 607.5,663.9 610.5,665.3 613.5,681.5 617.5,695.4 620.5,702.3 623.5,671.7 627.5,665.8 630.5,671.2 633.5,670.8 637.5,668.2 640.5,666.0 643.5,656.4 646.5,659.7 650.5,673.3 653.5,646.9 656.5,644.0 660.5,658.4 663.5,656.0 666.5,648.7 669.5,656.3 673.5,643.6 676.5,625.4 679.5,609.7 683.5,609.2 686.5,611.9 689.5,608.9 692.5,605.5 696.5,596.2 699.5,583.5 702.5,579.0 706.5,576.0 709.5,574.3 712.5,568.9 716.5,568.8 719.5,572.8 722.5,597.3 725.5,592.3 729.5,591.7 732.5,590.9 735.5,583.5 739.5,599.5 742.5,599.5 745.5,598.3 748.5,621.0 752.5,652.1 755.5,664.4 758.5,651.8 762.5,632.0 765.5,645.1 768.5,639.5 771.5,622.6 775.5,616.7 778.5,603.7 781.5,605.6 785.5,608.6 788.5,592.4 791.5,587.2 794.5,610.3 798.5,620.6 801.5,623.1 804.5,620.0 808.5,636.1 811.5,656.6 814.5,639.8 818.5,649.1 821.5,619.9 824.5,623.8 827.5,623.6 831.5,652.2 834.5,641.2 837.5,646.9 841.5,646.7 844.5,656.6 847.5,654.9 850.5,654.9 854.5,660.2 857.5,659.1 860.5,650.3 864.5,662.4 867.5,661.6 870.5,664.8 873.5,661.3 877.5,661.1 880.5,658.9 883.5,657.1 887.5,646.5 890.5,627.0 893.5,632.3 897.5,639.4 900.5,648.5 903.5,651.3 906.5,642.6 910.5,646.1 913.5,657.6 916.5,656.1 920.5,660.8 923.5,685.1 926.5,688.1 929.5,689.6 933.5,710.1 936.5,689.9 939.5,691.2 943.5,676.5 946.5,668.4 949.5,675.3 952.5,655.7 956.5,643.5 959.5,641.8 962.5,644.9 966.5,641.8 969.5,628.6 972.5,654.1 976.5,647.6 979.5,662.6 982.5,697.3 985.5,701.6 989.5,669.8 992.5,664.1 995.5,671.2 999.5,679.2 1002.5,684.0 1005.5,687.4 1008.5,682.5 1012.5,674.5 1015.5,675.3 1018.5,682.4 1022.5,686.8 1025.5,681.4 1028.5,674.1 1031.5,672.0 1035.5,654.2 1038.5,657.7 1041.5,670.0 1045.5,676.1 1048.5,683.3 1051.5,678.2 1055.5,675.6 1058.5,671.9 1061.5,695.9 1064.5,712.8 1068.5,698.5 1071.5,704.2 1074.5,691.9 1078.5,694.5 1081.5,677.2 1084.5,678.6 1087.5,688.6 1091.5,688.8 1094.5,699.7 1097.5,706.3 1101.5,699.7 1104.5,704.4 1107.5,707.9 1110.5,696.5 1114.5,702.8 1117.5,713.2 1120.5,716.3 1124.5,716.0 1127.5,712.4 1130.5,692.5 1134.5,692.5 1137.5,684.0 1140.5,684.6 1143.5,682.2 1147.5,686.8 1150.5,685.2 1153.5,703.2 1157.5,677.1 1160.5,656.7 1163.5,662.3 1166.5,672.7 1170.5,670.4 1173.5,667.4 1176.5,661.0 1180.5,641.9 1183.5,640.9 1186.5,652.7 1189.5,665.8 1189.5,611.2 11.5,611.2"/>
<polygon clip-path="url(#cos)" fill="url(#os)" points="11.5,682.4 14.5,677.3 18.5,685.5 21.5,688.6 24.5,676.4 28.5,671.1 31.5,670.4 34.5,682.9 37.5,682.6 41.5,674.2 44.5,677.7 47.5,677.4 51.5,679.7 54.5,676.9 57.5,666.3 61.5,651.3 64.5,647.0 67.5,649.9 70.5,644.6 74.5,675.4 77.5,680.5 80.5,688.8 84.5,683.0 87.5,680.8 90.5,682.5 93.5,693.7 97.5,681.7 100.5,657.7 103.5,671.1 107.5,655.5 110.5,669.8 113.5,677.5 116.5,670.2 120.5,666.3 123.5,673.7 126.5,663.5 130.5,666.9 133.5,665.4 136.5,673.9 140.5,678.9 143.5,687.8 146.5,683.8 149.5,667.0 153.5,661.8 156.5,679.3 159.5,697.9 163.5,695.2 166.5,705.1 169.5,697.8 172.5,704.6 176.5,708.4 179.5,706.3 182.5,706.7 186.5,701.6 189.5,705.8 192.5,686.4 195.5,691.9 199.5,685.7 202.5,689.2 205.5,691.4 209.5,678.4 212.5,686.6 215.5,679.8 219.5,677.1 222.5,685.7 225.5,666.4 228.5,662.4 232.5,694.2 235.5,695.0 238.5,707.4 242.5,709.9 245.5,713.9 248.5,713.9 251.5,674.3 255.5,701.4 258.5,698.9 261.5,690.4 265.5,693.5 268.5,697.7 271.5,689.4 274.5,702.4 278.5,711.5 281.5,704.1 284.5,705.0 288.5,707.9 291.5,700.6 294.5,697.4 298.5,701.6 301.5,695.1 304.5,694.6 307.5,675.5 311.5,684.1 314.5,685.6 317.5,682.1 321.5,679.3 324.5,667.1 327.5,670.0 330.5,677.2 334.5,678.1 337.5,690.8 340.5,698.4 344.5,701.1 347.5,697.2 350.5,680.0 353.5,694.4 357.5,689.7 360.5,690.4 363.5,691.7 367.5,714.4 370.5,716.7 373.5,723.3 376.5,687.0 380.5,700.5 383.5,692.8 386.5,681.8 390.5,686.8 393.5,683.0 396.5,686.3 400.5,688.1 403.5,684.3 406.5,684.3 409.5,680.0 413.5,685.4 416.5,686.3 419.5,653.3 423.5,647.9 426.5,654.1 429.5,644.9 432.5,644.5 436.5,651.6 439.5,648.2 442.5,651.7 446.5,652.5 449.5,643.7 452.5,643.1 455.5,646.7 459.5,651.0 462.5,649.4 465.5,655.2 469.5,653.4 472.5,596.3 475.5,587.2 479.5,575.8 482.5,588.0 485.5,594.6 488.5,584.8 492.5,597.2 495.5,607.6 498.5,610.2 502.5,620.6 505.5,618.4 508.5,615.7 511.5,616.7 515.5,614.0 518.5,604.2 521.5,630.2 525.5,629.9 528.5,627.7 531.5,625.7 534.5,615.5 538.5,614.2 541.5,624.5 544.5,645.2 548.5,645.0 551.5,643.3 554.5,633.5 558.5,635.4 561.5,634.5 564.5,669.9 567.5,659.0 571.5,651.8 574.5,656.0 577.5,632.2 581.5,618.6 584.5,627.4 587.5,647.8 590.5,656.1 594.5,663.1 597.5,660.7 600.5,660.7 604.5,667.0 607.5,663.9 610.5,665.3 613.5,681.5 617.5,695.4 620.5,702.3 623.5,671.7 627.5,665.8 630.5,671.2 633.5,670.8 637.5,668.2 640.5,666.0 643.5,656.4 646.5,659.7 650.5,673.3 653.5,646.9 656.5,644.0 660.5,658.4 663.5,656.0 666.5,648.7 669.5,656.3 673.5,643.6 676.5,625.4 679.5,609.7 683.5,609.2 686.5,611.9 689.5,608.9 692.5,605.5 696.5,596.2 699.5,583.5 702.5,579.0 706.5,576.0 709.5,574.3 712.5,568.9 716.5,568.8 719.5,572.8 722.5,597.3 725.5,592.3 729.5,591.7 732.5,590.9 735.5,583.5 739.5,599.5 742.5,599.5 745.5,598.3 748.5,621.0 752.5,652.1 755.5,664.4 758.5,651.8 762.5,632.0 765.5,645.1 768.5,639.5 771.5,622.6 775.5,616.7 778.5,603.7 781.5,605.6 785.5,608.6 788.5,592.4 791.5,587.2 794.5,610.3 798.5,620.6 801.5,623.1 804.5,620.0 808.5,636.1 811.5,656.6 814.5,639.8 818.5,649.1 821.5,619.9 824.5,623.8 827.5,623.6 831.5,652.2 834.5,641.2 837.5,646.9 841.5,646.7 844.5,656.6 847.5,654.9 850.5,654.9 854.5,660.2 857.5,659.1 860.5,650.3 864.5,662.4 867.5,661.6 870.5,664.8 873.5,661.3 877.5,661.1 880.5,658.9 883.5,657.1 887.5,646.5 890.5,627.0 893.5,632.3 897.5,639.4 900.5,648.5 903.5,651.3 906.5,642.6 910.5,646.1 913.5,657.6 916.5,656.1 920.5,660.8 923.5,685.1 926.5,688.1 929.5,689.6 933.5,710.1 936.5,689.9 939.5,691.2 943.5,676.5 946.5,668.4 949.5,675.3 952.5,655.7 956.5,643.5 959.5,641.8 962.5,644.9 966.5,641.8 969.5,628.6 972.5,654.1 976.5,647.6 979.5,662.6 982.5,697.3 985.5,701.6 989.5,669.8 992.5,664.1 995.5,671.2 999.5,679.2 1002.5,684.0 1005.5,687.4 1008.5,682.5 1012.5,674.5 1015.5,675.3 1018.5,682.4 1022.5,686.8 1025.5,681.4 1028.5,674.1 1031.5,672.0 1035.5,654.2 1038.5,657.7 1041.5,670.0 1045.5,676.1 1048.5,683.3 1051.5,678.2 1055.5,675.6 1058.5,671.9 1061.5,695.9 1064.5,712.8 1068.5,698.5 1071.5,704.2 1074.5,691.9 1078.5,694.5 1081.5,677.2 1084.5,678.6 1087.5,688.6 1091.5,688.8 1094.5,699.7 1097.5,706.3 1101.5,699.7 1104.5,704.4 1107.5,707.9 1110.5,696.5 1114.5,702.8 1117.5,713.2 1120.5,716.3 1124.5,716.0 1127.5,712.4 1130.5,692.5 1134.5,692.5 1137.5,684.0 1140.5,684.6 1143.5,682.2 1147.5,686.8 1150.5,685.2 1153.5,703.2 1157.5,677.1 1160.5,656.7 1163.5,662.3 1166.5,672.7 1170.5,670.4 1173.5,667.4 1176.5,661.0 1180.5,641.9 1183.5,640.9 1186.5,652.7 1189.5,665.8 1189.5,711.8 11.5,711.8"/>
<polyline fill="none" stroke="#fdd835" stroke-width="1.3" stroke-linejoin="round" points="11.5,634.3 14.5,637.6 18.5,641.5 21.5,645.7 24.5,648.9 28.5,651.8 31.5,654.7 34.5,658.4 37.5,662.1 41.5,665.3 44.5,668.6 47.5,672.0 51.5,675.5 54.5,678.8 57.5,677.6 61.5,675.8 64.5,673.0 67.5,670.3 70.5,668.0 74.5,668.3 77.5,669.0 80.5,669.4 84.5,669.5 87.5,669.9 90.5,670.3 93.5,671.5 97.5,671.6 100.5,670.2 103.5,670.6 107.5,670.9 110.5,672.5 113.5,674.5 116.5,676.3 120.5,675.6 123.5,675.2 126.5,673.4 130.5,672.2 133.5,671.1 136.5,670.5 140.5,669.4 143.5,669.9 146.5,671.7 149.5,671.4 153.5,671.9 156.5,672.6 159.5,674.0 163.5,675.8 166.5,678.6 169.5,680.3 172.5,683.2 176.5,686.2 179.5,689.1 182.5,691.5 186.5,693.1 189.5,694.4 192.5,694.6 195.5,696.3 199.5,698.1 202.5,698.8 205.5,698.3 209.5,697.1 212.5,695.8 215.5,694.5 219.5,692.5 222.5,690.9 225.5,688.0 228.5,684.9 232.5,684.4 235.5,683.6 238.5,685.1 242.5,686.4 245.5,688.4 248.5,690.2 251.5,688.9 255.5,690.6 258.5,691.5 261.5,692.2 265.5,693.4 268.5,694.2 271.5,695.9 274.5,698.7 278.5,700.0 281.5,700.6 284.5,700.5 288.5,700.3 291.5,699.4 294.5,698.2 298.5,700.1 301.5,699.7 304.5,699.4 307.5,698.3 311.5,697.6 314.5,696.8 317.5,696.3 321.5,694.6 324.5,691.4 327.5,689.0 330.5,687.0 334.5,684.9 337.5,684.2 340.5,684.2 344.5,684.2 347.5,684.4 350.5,683.3 353.5,684.7 357.5,685.1 360.5,685.4 363.5,686.1 367.5,688.6 370.5,692.1 373.5,695.9 376.5,696.7 380.5,698.3 383.5,698.4 386.5,697.2 390.5,696.2 393.5,695.2 396.5,695.6 400.5,695.2 403.5,694.8 406.5,694.4 409.5,693.5 413.5,691.5 416.5,689.3 419.5,684.3 423.5,681.5 426.5,678.2 429.5,674.7 432.5,672.1 436.5,669.6 439.5,667.1 442.5,664.6 446.5,662.1 449.5,659.2 452.5,656.2 455.5,653.8 459.5,651.4 462.5,648.8 465.5,648.9 469.5,649.3 472.5,645.2 475.5,641.0 479.5,636.1 482.5,631.6 485.5,627.8 488.5,623.0 492.5,619.0 495.5,616.4 498.5,614.1 502.5,612.2 505.5,609.9 508.5,607.5 511.5,604.7 515.5,601.9 518.5,602.5 521.5,605.6 525.5,609.4 528.5,612.3 531.5,614.5 534.5,616.7 538.5,617.9 541.5,619.1 544.5,621.6 548.5,623.3 551.5,625.1 554.5,626.4 558.5,627.7 561.5,629.2 564.5,633.9 567.5,635.9 571.5,637.5 574.5,639.5 577.5,640.0 581.5,640.2 584.5,641.2 587.5,642.8 590.5,643.6 594.5,644.9 597.5,646.1 600.5,648.1 604.5,650.3 607.5,652.4 610.5,652.1 613.5,653.7 617.5,656.8 620.5,660.1 623.5,662.9 627.5,666.3 630.5,669.4 633.5,671.1 637.5,672.0 640.5,672.2 643.5,671.9 646.5,671.8 650.5,672.2 653.5,671.0 656.5,669.5 660.5,667.9 663.5,665.0 666.5,661.2 669.5,660.1 673.5,658.5 676.5,655.3 679.5,650.9 683.5,646.7 686.5,642.8 689.5,639.4 692.5,635.5 696.5,630.0 699.5,625.5 702.5,620.9 706.5,615.0 709.5,609.1 712.5,603.4 716.5,597.2 719.5,592.1 722.5,590.1 725.5,588.9 729.5,587.7 732.5,586.2 735.5,584.3 739.5,583.9 742.5,584.2 745.5,585.2 748.5,588.2 752.5,593.7 755.5,600.1 758.5,606.0 762.5,610.5 765.5,615.7 768.5,618.7 771.5,620.9 775.5,622.7 778.5,623.6 781.5,625.1 785.5,625.8 788.5,625.3 791.5,624.5 794.5,623.7 798.5,621.5 801.5,618.5 804.5,616.2 808.5,616.5 811.5,617.3 814.5,617.4 818.5,619.3 821.5,619.5 824.5,620.9 827.5,622.2 831.5,625.3 834.5,628.8 837.5,633.1 841.5,635.7 844.5,638.3 847.5,640.5 850.5,643.0 854.5,644.7 857.5,644.9 860.5,645.7 864.5,646.6 867.5,649.6 870.5,652.5 873.5,655.2 877.5,655.9 880.5,657.1 883.5,657.8 887.5,657.8 890.5,655.7 893.5,654.1 897.5,653.0 900.5,652.2 903.5,651.6 906.5,651.1 910.5,649.9 913.5,649.6 916.5,649.0 920.5,649.0 923.5,650.7 926.5,652.8 929.5,655.1 933.5,659.6 936.5,664.1 939.5,668.3 943.5,671.0 946.5,672.4 949.5,674.1 952.5,675.0 956.5,674.9 959.5,673.7 962.5,672.9 966.5,671.6 969.5,667.5 972.5,665.1 976.5,662.1 979.5,658.7 982.5,659.2 985.5,660.0 989.5,659.5 992.5,659.2 995.5,658.9 999.5,660.6 1002.5,663.5 1005.5,666.7 1008.5,669.4 1012.5,671.7 1015.5,675.1 1018.5,677.1 1022.5,679.9 1025.5,681.2 1028.5,679.6 1031.5,677.5 1035.5,676.4 1038.5,675.9 1041.5,675.8 1045.5,675.6 1048.5,675.5 1051.5,674.9 1055.5,674.4 1058.5,674.2 1061.5,675.7 1064.5,677.8 1068.5,678.7 1071.5,680.3 1074.5,681.6 1078.5,683.2 1081.5,684.8 1084.5,686.3 1087.5,687.6 1091.5,688.6 1094.5,689.7 1097.5,691.7 1101.5,693.5 1104.5,695.8 1107.5,696.6 1110.5,695.5 1114.5,695.8 1117.5,696.4 1120.5,698.2 1124.5,699.7 1127.5,702.2 1130.5,703.2 1134.5,703.5 1137.5,703.2 1140.5,702.1 1143.5,700.4 1147.5,699.4 1150.5,698.1 1153.5,697.7 1157.5,696.3 1160.5,693.0 1163.5,689.4 1166.5,686.3 1170.5,683.0 1173.5,679.8 1176.5,677.6 1180.5,674.0 1183.5,670.9 1186.5,668.6 1189.5,667.4"/>
<polyline fill="none" stroke="#7e57c2" stroke-width="3" stroke-linejoin="round" stroke-linecap="round" points="11.5,682.4 14.5,677.3 18.5,685.5 21.5,688.6 24.5,676.4 28.5,671.1 31.5,670.4 34.5,682.9 37.5,682.6 41.5,674.2 44.5,677.7 47.5,677.4 51.5,679.7 54.5,676.9 57.5,666.3 61.5,651.3 64.5,647.0 67.5,649.9 70.5,644.6 74.5,675.4 77.5,680.5 80.5,688.8 84.5,683.0 87.5,680.8 90.5,682.5 93.5,693.7 97.5,681.7 100.5,657.7 103.5,671.1 107.5,655.5 110.5,669.8 113.5,677.5 116.5,670.2 120.5,666.3 123.5,673.7 126.5,663.5 130.5,666.9 133.5,665.4 136.5,673.9 140.5,678.9 143.5,687.8 146.5,683.8 149.5,667.0 153.5,661.8 156.5,679.3 159.5,697.9 163.5,695.2 166.5,705.1 169.5,697.8 172.5,704.6 176.5,708.4 179.5,706.3 182.5,706.7 186.5,701.6 189.5,705.8 192.5,686.4 195.5,691.9 199.5,685.7 202.5,689.2 205.5,691.4 209.5,678.4 212.5,686.6 215.5,679.8 219.5,677.1 222.5,685.7 225.5,666.4 228.5,662.4 232.5,694.2 235.5,695.0 238.5,707.4 242.5,709.9 245.5,713.9 248.5,713.9 251.5,674.3 255.5,701.4 258.5,698.9 261.5,690.4 265.5,693.5 268.5,697.7 271.5,689.4 274.5,702.4 278.5,711.5 281.5,704.1 284.5,705.0 288.5,707.9 291.5,700.6 294.5,697.4 298.5,701.6 301.5,695.1 304.5,694.6 307.5,675.5 311.5,684.1 314.5,685.6 317.5,682.1 321.5,679.3 324.5,667.1 327.5,670.0 330.5,677.2 334.5,678.1 337.5,690.8 340.5,698.4 344.5,701.1 347.5,697.2 350.5,680.0 353.5,694.4 357.5,689.7 360.5,690.4 363.5,691.7 367.5,714.4 370.5,716.7 373.5,723.3 376.5,687.0 380.5,700.5 383.5,692.8 386.5,681.8 390.5,686.8 393.5,683.0 396.5,686.3 400.5,688.1 403.5,684.3 406.5,684.3 409.5,680.0 413.5,685.4 416.5,686.3 419.5,653.3 423.5,647.9 426.5,654.1 429.5,644.9 432.5,644.5 436.5,651.6 439.5,648.2 442.5,651.7 446.5,652.5 449.5,643.7 452.5,643.1 455.5,646.7 459.5,651.0 462.5,649.4 465.5,655.2 469.5,653.4 472.5,596.3 475.5,587.2 479.5,575.8 482.5,588.0 485.5,594.6 488.5,584.8 492.5,597.2 495.5,607.6 498.5,610.2 502.5,620.6 505.5,618.4 508.5,615.7 511.5,616.7 515.5,614.0 518.5,604.2 521.5,630.2 525.5,629.9 528.5,627.7 531.5,625.7 534.5,615.5 538.5,614.2 541.5,624.5 544.5,645.2 548.5,645.0 551.5,643.3 554.5,633.5 558.5,635.4 561.5,634.5 564.5,669.9 567.5,659.0 571.5,651.8 574.5,656.0 577.5,632.2 581.5,618.6 584.5,627.4 587.5,647.8 590.5,656.1 594.5,663.1 597.5,660.7 600.5,660.7 604.5,667.0 607.5,663.9 610.5,665.3 613.5,681.5 617.5,695.4 620.5,702.3 623.5,671.7 627.5,665.8 630.5,671.2 633.5,670.8 637.5,668.2 640.5,666.0 643.5,656.4 646.5,659.7 650.5,673.3 653.5,646.9 656.5,644.0 660.5,658.4 663.5,656.0 666.5,648.7 669.5,656.3 673.5,643.6 676.5,625.4 679.5,609.7 683.5,609.2 686.5,611.9 689.5,608.9 692.5,605.5 696.5,596.2 699.5,583.5 702.5,579.0 706.5,576.0 709.5,574.3 712.5,568.9 716.5,568.8 719.5,572.8 722.5,597.3 725.5,592.3 729.5,591.7 732.5,590.9 735.5,583.5 739.5,599.5 742.5,599.5 745.5,598.3 748.5,621.0 752.5,652.1 755.5,664.4 758.5,651.8 762.5,632.0 765.5,645.1 768.5,639.5 771.5,622.6 775.5,616.7 778.5,603.7 781.5,605.6 785.5,608.6 788.5,592.4 791.5,587.2 794.5,610.3 798.5,620.6 801.5,623.1 804.5,620.0 808.5,636.1 811.5,656.6 814.5,639.8 818.5,649.1 821.5,619.9 824.5,623.8 827.5,623.6 831.5,652.2 834.5,641.2 837.5,646.9 841.5,646.7 844.5,656.6 847.5,654.9 850.5,654.9 854.5,660.2 857.5,659.1 860.5,650.3 864.5,662.4 867.5,661.6 870.5,664.8 873.5,661.3 877.5,661.1 880.5,658.9 883.5,657.1 887.5,646.5 890.5,627.0 893.5,632.3 897.5,639.4 900.5,648.5 903.5,651.3 906.5,642.6 910.5,646.1 913.5,657.6 916.5,656.1 920.5,660.8 923.5,685.1 926.5,688.1 929.5,689.6 933.5,710.1 936.5,689.9 939.5,691.2 943.5,676.5 946.5,668.4 949.5,675.3 952.5,655.7 956.5,643.5 959.5,641.8 962.5,644.9 966.5,641.8 969.5,628.6 972.5,654.1 976.5,647.6 979.5,662.6 982.5,697.3 985.5,701.6 989.5,669.8 992.5,664.1 995.5,671.2 999.5,679.2 1002.5,684.0 1005.5,687.4 1008.5,682.5 1012.5,674.5 1015.5,675.3 1018.5,682.4 1022.5,686.8 1025.5,681.4 1028.5,674.1 1031.5,672.0 1035.5,654.2 1038.5,657.7 1041.5,670.0 1045.5,676.1 1048.5,683.3 1051.5,678.2 1055.5,675.6 1058.5,671.9 1061.5,695.9 1064.5,712.8 1068.5,698.5 1071.5,704.2 1074.5,691.9 1078.5,694.5 1081.5,677.2 1084.5,678.6 1087.5,688.6 1091.5,688.8 1094.5,699.7 1097.5,706.3 1101.5,699.7 1104.5,704.4 1107.5,707.9 1110.5,696.5 1114.5,702.8 1117.5,713.2 1120.5,716.3 1124.5,716.0 1127.5,712.4 1130.5,692.5 1134.5,692.5 1137.5,684.0 1140.5,684.6 1143.5,682.2 1147.5,686.8 1150.5,685.2 1153.5,703.2 1157.5,677.1 1160.5,656.7 1163.5,662.3 1166.5,672.7 1170.5,670.4 1173.5,667.4 1176.5,661.0 1180.5,641.9 1183.5,640.9 1186.5,652.7 1189.5,665.8"/>
</g>
<g shape-rendering="crispEdges">
<rect x="10" y="27" width="1333" height="736" fill="none" stroke="#f0f0f0" stroke-width="2"/>
<line x1="1277.5" y1="28" x2="1277.5" y2="762" stroke="#e2e4e3" stroke-width="1"/>
<line x1="11" y1="557.5" x2="1342" y2="557.5" stroke="#e2e4e3" stroke-width="1"/>
<line x1="11" y1="735.5" x2="1342" y2="735.5" stroke="#e2e4e3" stroke-width="1"/>
</g>
<rect x="1281.5" y="31.5" width="57" height="25" rx="4" fill="#fff" stroke="#f0f0f0" stroke-width="1.5"/>
<text x="1290" y="48.5" font-size="12" fill="#131722" textLength="27" lengthAdjust="spacingAndGlyphs">USDT</text>
<text x="10" y="19.4" font-size="12.5" fill="#131722" text-anchor="start" font-weight="normal" textLength="362" lengthAdjust="spacingAndGlyphs" >ranadagger created with TradingView.com, Dec 12, 2025 15:44 UTC</text><text x="17.7" y="46" font-size="12" fill="#131722" text-anchor="start" font-weight="normal" textLength="193" lengthAdjust="spacingAndGlyphs" >Ethereum / TetherUS · 1D · Binance</text><text x="218" y="46" font-size="12" fill="#131722" text-anchor="start" font-weight="normal" textLength="8" lengthAdjust="spacingAndGlyphs" >O</text><text x="226.2" y="46" font-size="12" fill="#ef5350" text-anchor="start" font-weight="normal" textLength="46.5" lengthAdjust="spacingAndGlyphs" >3,237.38</text><text x="280.3" y="46" font-size="12" fill="#131722" text-anchor="start" font-weight="normal" textLength="8" lengthAdjust="spacingAndGlyphs" >H</text><text x="288.2" y="46" font-size="12" fill="#ef5350" text-anchor="start" font-weight="normal" textLength="46.5" lengthAdjust="spacingAndGlyphs" >3,265.50</text><text x="341.5" y="46" font-size="12" fill="#131722" text-anchor="start" font-weight="normal" textLength="6.5" lengthAdjust="spacingAndGlyphs" >L</text><text x="348.1" y="46" font-size="12" fill="#ef5350" text-anchor="start" font-weight="normal" textLength="46.5" lengthAdjust="spacingAndGlyphs" >3,085.84</text><text x="401.3" y="46" font-size="12" fill="#131722" text-anchor="start" font-weight="normal" textLength="7.5" lengthAdjust="spacingAndGlyphs" >C</text><text x="408.9" y="46" font-size="12" fill="#ef5350" text-anchor="start" font-weight="normal" textLength="46.5" lengthAdjust="spacingAndGlyphs" >3,108.95</text><text x="462.1" y="46" font-size="12" fill="#ef5350" text-anchor="start" font-weight="normal" textLength="91.3" lengthAdjust="spacingAndGlyphs" >−128.44 (−3.97%)</text><text x="17.7" y="63" font-size="12" fill="#131722" text-anchor="start" font-weight="normal" textLength="82" lengthAdjust="spacingAndGlyphs" >EMA (20, close)</text><text x="107.3" y="63" font-size="12" fill="#2962ff" text-anchor="start" font-weight="normal" textLength="47" lengthAdjust="spacingAndGlyphs" >3,125.75</text><text x="17.7" y="80" font-size="12" fill="#131722" text-anchor="start" font-weight="normal" textLength="82" lengthAdjust="spacingAndGlyphs" >SMA (50, close)</text><text x="106.4" y="80" font-size="12" fill="#f23645" text-anchor="start" font-weight="normal" textLength="47.5" lengthAdjust="spacingAndGlyphs" >3,304.20</text><text x="17.9" y="577" font-size="12" fill="#131722" text-anchor="start" font-weight="normal" textLength="75.6" lengthAdjust="spacingAndGlyphs" >RSI (14, close)</text><text x="102.1" y="577" font-size="12" fill="#7e57c2" text-anchor="start" font-weight="normal" textLength="28.6" lengthAdjust="spacingAndGlyphs" >48.15</text><text x="138.2" y="577" font-size="12" fill="#f9c31f" text-anchor="start" font-weight="normal" textLength="29.6" lengthAdjust="spacingAndGlyphs" >47.55</text><text x="1286" y="550.7" font-size="12" fill="#131722" text-anchor="start" font-weight="normal" textLength="46.5" lengthAdjust="spacingAndGlyphs" >1,250.00</text><text x="1286" y="517.7" font-size="12" fill="#131722" text-anchor="start" font-weight="normal" textLength="46.5" lengthAdjust="spacingAndGlyphs" >1,500.00</text><text x="1286" y="484.7" font-size="12" fill="#131722" text-anchor="start" font-weight="normal" textLength="46.5" lengthAdjust="spacingAndGlyphs" >1,750.00</text><text x="1286" y="451.7" font-size="12" fill="#131722" text-anchor="start" font-weight="normal" textLength="46.5" lengthAdjust="spacingAndGlyphs" >2,000.00</text><text x="1286" y="417.7" font-size="12" fill="#131722" text-anchor="start" font-weight="normal" textLength="46.5" lengthAdjust="spacingAndGlyphs" >2,250.00</text><text x="1286" y="384.7" font-size="12" fill="#131722" text-anchor="start" font-weight="normal" textLength="46.5" lengthAdjust="spacingAndGlyphs" >2,500.00</text><text x="1286" y="350.7" font-size="12" fill="#131722" text-anchor="start" font-weight="normal" textLength="46.5" lengthAdjust="spacingAndGlyphs" >2,750.00</text><text x="1286" y="251.7" font-size="12" fill="#131722" text-anchor="start" font-weight="normal" textLength="46.5" lengthAdjust="spacingAndGlyphs" >3,500.00</text><text x="1286" y="217.7" font-size="12" fill="#131722" text-anchor="start" font-weight="normal" textLength="46.5" lengthAdjust="spacingAndGlyphs" >3,750.00</text><text x="1286" y="184.7" font-size="12" fill="#131722" text-anchor="start" font-weight="normal" textLength="46.5" lengthAdjust="spacingAndGlyphs" >4,000.00</text><text x="1286" y="151.7" font-size="12" fill="#131722" text-anchor="start" font-weight="normal" textLength="46.5" lengthAdjust="spacingAndGlyphs" >4,250.00</text><text x="1286" y="117.7" font-size="12" fill="#131722" text-anchor="start" font-weight="normal" textLength="46.5" lengthAdjust="spacingAndGlyphs" >4,500.00</text><text x="1286" y="84.7" font-size="12" fill="#131722" text-anchor="start" font-weight="normal" textLength="46.5" lengthAdjust="spacingAndGlyphs" >4,750.00</text><text x="1286" y="589.7" font-size="12" fill="#131722" text-anchor="start" font-weight="normal" textLength="29.3" lengthAdjust="spacingAndGlyphs" >80.00</text><text x="1286" y="639.7" font-size="12" fill="#131722" text-anchor="start" font-weight="normal" textLength="29.3" lengthAdjust="spacingAndGlyphs" >60.00</text><text x="54.4" y="753.3" font-size="12" fill="#131722" text-anchor="middle" font-weight="bold" >2025</text><text x="156.5" y="753.3" font-size="12" fill="#131722" text-anchor="middle" font-weight="normal" >Feb</text><text x="248.6" y="753.3" font-size="12" fill="#131722" text-anchor="middle" font-weight="normal" >Mar</text><text x="350.7" y="753.3" font-size="12" fill="#131722" text-anchor="middle" font-weight="normal" >Apr</text><text x="449.4" y="753.3" font-size="12" fill="#131722" text-anchor="middle" font-weight="normal" >May</text><text x="551.4" y="753.3" font-size="12" fill="#131722" text-anchor="middle" font-weight="normal" >Jun</text><text x="650.2" y="753.3" font-size="12" fill="#131722" text-anchor="middle" font-weight="normal" >Jul</text><text x="752.2" y="753.3" font-size="12" fill="#131722" text-anchor="middle" font-weight="normal" >Aug</text><text x="854.2" y="753.3" font-size="12" fill="#131722" text-anchor="middle" font-weight="normal" >Sep</text><text x="953.0" y="753.3" font-size="12" fill="#131722" text-anchor="middle" font-weight="normal" >Oct</text><text x="1055.0" y="753.3" font-size="12" fill="#131722" text-anchor="middle" font-weight="normal" >Nov</text><text x="1153.8" y="753.3" font-size="12" fill="#131722" text-anchor="middle" font-weight="normal" >Dec</text><text x="1255.8" y="753.3" font-size="12" fill="#131722" text-anchor="middle" font-weight="bold" >2026</text>
<path fill="#0000ff" d="M1278 241H1335.5Q1338 241 1338 243.5V255.2Q1338 257.7 1335.5 257.7H1278Z"/><path fill="#f23645" d="M1278 258.2H1229.5Q1227 258.2 1227 260.7V272.0Q1227 274.5 1229.5 274.5H1278Z"/><path fill="#f23645" d="M1278 258.2H1335.5Q1338 258.2 1338 260.7V272.0Q1338 274.5 1335.5 274.5H1278Z"/><path fill="#2962ff" d="M1278 275.2H1248.7Q1246.2 275.2 1246.2 277.7V289.3Q1246.2 291.8 1248.7 291.8H1278Z"/><path fill="#2962ff" d="M1278 275.2H1335.5Q1338 275.2 1338 277.7V289.3Q1338 291.8 1335.5 291.8H1278Z"/><path fill="#ef5350" d="M1278 292.4H1221.5Q1219 292.4 1219 294.9V306.2Q1219 308.7 1221.5 308.7H1278Z"/><path fill="#ef5350" d="M1278 292.4H1335.5Q1338 292.4 1338 294.9V333.9Q1338 336.4 1335.5 336.4H1278Z"/><path fill="#7e57c2" d="M1278 658.2H1254.5Q1252 658.2 1252 660.7V672.2Q1252 674.7 1254.5 674.7H1278Z"/><path fill="#7e57c2" d="M1278 658.2H1318.2Q1320.7 658.2 1320.7 660.7V672.2Q1320.7 674.7 1318.2 674.7H1278Z"/><path fill="#fdd835" d="M1278 675H1200.7Q1198.2 675 1198.2 677.5V689.1Q1198.2 691.6 1200.7 691.6H1278Z"/><path fill="#fdd835" d="M1278 675H1318.2Q1320.7 675 1320.7 677.5V689.1Q1320.7 691.6 1318.2 691.6H1278Z"/><text x="1286" y="253.7" font-size="12" fill="#ffffff" text-anchor="start" textLength="46.5" lengthAdjust="spacingAndGlyphs">3,350.00</text><text x="1232" y="270.6" font-size="12" fill="#ffffff" text-anchor="start" textLength="41.5" lengthAdjust="spacingAndGlyphs">SMA:MA</text><text x="1286" y="270.6" font-size="12" fill="#ffffff" text-anchor="start" textLength="46.5" lengthAdjust="spacingAndGlyphs">3,304.20</text><text x="1251" y="287.7" font-size="12" fill="#ffffff" text-anchor="start" textLength="22.5" lengthAdjust="spacingAndGlyphs">EMA</text><text x="1286" y="287.7" font-size="12" fill="#ffffff" text-anchor="start" textLength="46.5" lengthAdjust="spacingAndGlyphs">3,125.75</text><text x="1224" y="304.6" font-size="12" fill="#ffffff" text-anchor="start" textLength="48.5" lengthAdjust="spacingAndGlyphs">ETHUSDT</text><text x="1286" y="304.6" font-size="12" fill="#ffffff" text-anchor="start" textLength="46.5" lengthAdjust="spacingAndGlyphs">3,108.95</text><text x="1286" y="318.6" font-size="12" fill="#ffffff" text-anchor="start" textLength="42" lengthAdjust="spacingAndGlyphs">−14.28%</text><text x="1286" y="332.4" font-size="12" fill="#fde0df" text-anchor="start" textLength="46.5" lengthAdjust="spacingAndGlyphs">08:15:04</text><text x="1257" y="670.5" font-size="12" fill="#ffffff" text-anchor="start" textLength="16" lengthAdjust="spacingAndGlyphs">RSI</text><text x="1286" y="670.5" font-size="12" fill="#ffffff" text-anchor="start" textLength="29.3" lengthAdjust="spacingAndGlyphs">48.15</text><text x="1203" y="687.5" font-size="12" fill="#131722" text-anchor="start" textLength="72" lengthAdjust="spacingAndGlyphs">RSI-based MA</text><text x="1286" y="687.5" font-size="12" fill="#131722" text-anchor="start" textLength="29.3" lengthAdjust="spacingAndGlyphs">47.55</text>
<line x1="1277.5" y1="258" x2="1277.5" y2="309" stroke="#ffffff" stroke-opacity="0.45" stroke-width="1" shape-rendering="crispEdges"/><line x1="1277.5" y1="658" x2="1277.5" y2="692" stroke="#ffffff" stroke-opacity="0.6" stroke-width="1" shape-rendering="crispEdges"/>
<g transform="translate(1189.4,544.4)">
<path d="M9.04,-2.9 A9.5,9.5 0 1 1 3.25,-8.93" fill="none" stroke="#9c27b0" stroke-width="1.8" stroke-linecap="round"/>
<path d="M2.5,-5.3 L-4.2,0.6 L-0.3,0.6 L-3.1,5.4 L4.2,-0.6 L0.3,-0.6 Z" fill="#9c27b0" stroke="#9c27b0" stroke-width="0.5" stroke-linejoin="round"/>
<circle cx="6.9" cy="-6.9" r="2.55" fill="#f23645"/>
</g>
<g fill="#131722">
<path d="M11.9 785H24.3V799.6H17.6V791H11.9Z"/>
<circle cx="29.5" cy="787.7" r="2.6"/>
<path d="M33.8 785H41.6L37.4 799.6H29Z"/>
<text x="49.6" y="799.6" font-size="20" font-weight="bold" textLength="120.4" lengthAdjust="spacingAndGlyphs">TradingView</text>
</g>
</svg>
</body></html>
